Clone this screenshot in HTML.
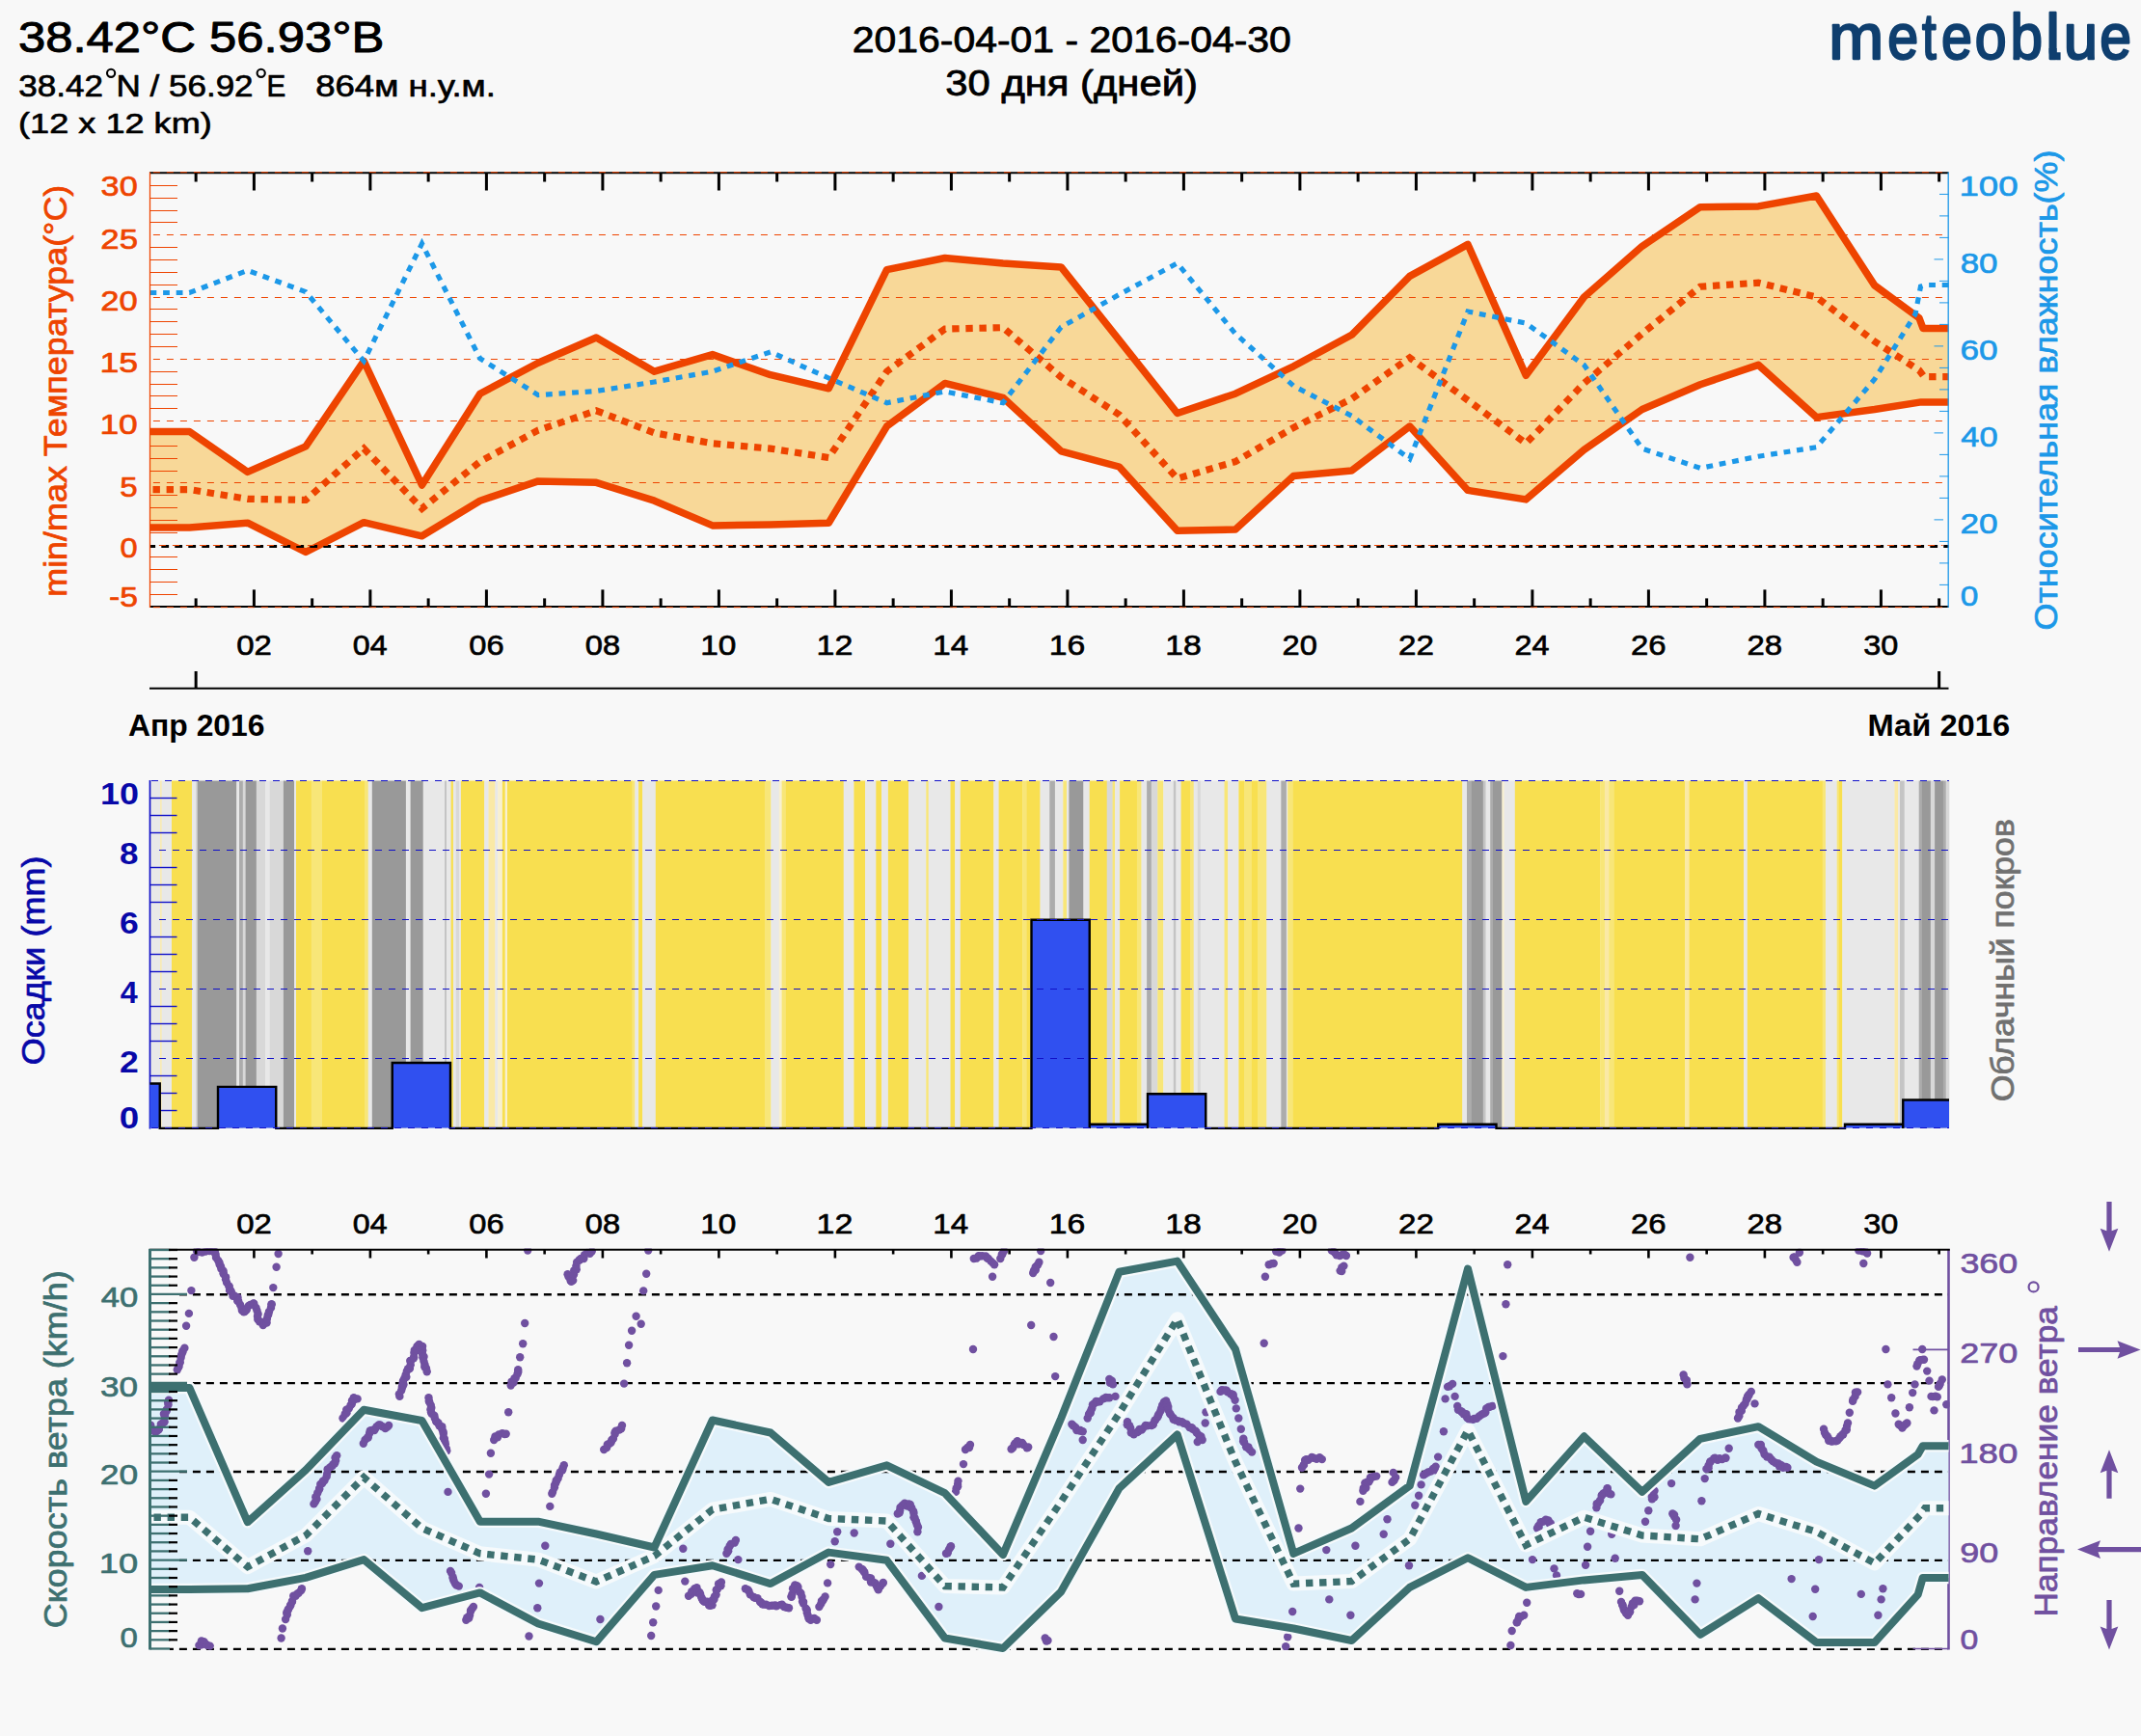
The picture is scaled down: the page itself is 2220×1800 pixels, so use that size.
<!DOCTYPE html>
<html><head><meta charset="utf-8"><title>meteoblue</title>
<style>html,body{margin:0;padding:0;background:#F8F8F8;overflow:hidden}svg{display:block}text{font-family:"Liberation Sans",sans-serif;white-space:pre}</style></head><body>
<svg width="2220" height="1800" viewBox="0 0 2220 1800">
<rect width="2220" height="1800" fill="#F8F8F8"/>
<text transform="translate(18.9 54.41) scale(1.1382 1)" font-size="44.62" fill="#000" stroke="#000" stroke-width="0.98" stroke-linejoin="round">38.42°С 56.93°В</text>
<text transform="translate(19.35 99.55) scale(1.1159 1)" font-size="31.43" fill="#000" stroke="#000" stroke-width="0.69" stroke-linejoin="round">38.42</text>
<text transform="translate(120.46 99.55) scale(1.1152 1)" font-size="31.43" fill="#000" stroke="#000" stroke-width="0.69" stroke-linejoin="round">N / 56.92</text>
<text transform="translate(276.58 99.55) scale(0.9454 1)" font-size="31.43" fill="#000" stroke="#000" stroke-width="0.69" stroke-linejoin="round">E</text>
<circle cx="115.1" cy="75.8" r="4.1" fill="none" stroke="#000" stroke-width="2.1"/>
<circle cx="270.7" cy="75.8" r="4.1" fill="none" stroke="#000" stroke-width="2.1"/>
<text transform="translate(327.19 99.55) scale(1.1637 1)" font-size="31.43" fill="#000" stroke="#000" stroke-width="0.69" stroke-linejoin="round">864м н.у.м.</text>
<text transform="translate(19.1 138.27) scale(1.2170 1)" font-size="29.68" fill="#000" stroke="#000" stroke-width="0.65" stroke-linejoin="round">(12 x 12 km)</text>
<text transform="translate(883.76 54.49) scale(1.1107 1)" font-size="36.86" fill="#000" stroke="#000" stroke-width="0.81" stroke-linejoin="round">2016-04-01 - 2016-04-30</text>
<text transform="translate(980.3 99.49) scale(1.1337 1)" font-size="36.86" fill="#000" stroke="#000" stroke-width="0.81" stroke-linejoin="round">30 дня (дней)</text>
<text stroke="#0F3F6F" stroke-width="2.3" stroke-linejoin="round" transform="translate(1896.35 61.2) scale(1.0324 1)" font-size="66.2" fill="#0F3F6F">m</text>
<text stroke="#0F3F6F" stroke-width="2.3" stroke-linejoin="round" transform="translate(1957.37 61.2) scale(0.8672 1)" font-size="66.2" fill="#0F3F6F">e</text>
<text stroke="#0F3F6F" stroke-width="2.3" stroke-linejoin="round" transform="translate(1993.1 61.2) scale(0.7971 1)" font-size="66.2" fill="#0F3F6F">t</text>
<text stroke="#0F3F6F" stroke-width="2.3" stroke-linejoin="round" transform="translate(2012.97 61.2) scale(0.8672 1)" font-size="66.2" fill="#0F3F6F">e</text>
<text stroke="#0F3F6F" stroke-width="2.3" stroke-linejoin="round" transform="translate(2047.79 61.2) scale(0.8928 1)" font-size="66.2" fill="#0F3F6F">o</text>
<text stroke="#0F3F6F" stroke-width="2.3" stroke-linejoin="round" transform="translate(2084.48 61.2) scale(0.9109 1)" font-size="66.2" fill="#0F3F6F">b</text>
<text stroke="#0F3F6F" stroke-width="2.3" stroke-linejoin="round" transform="translate(2121.29 61.2) scale(0.9913 1)" font-size="66.2" fill="#0F3F6F">l</text>
<text stroke="#0F3F6F" stroke-width="2.3" stroke-linejoin="round" transform="translate(2139.87 61.2) scale(0.9593 1)" font-size="66.2" fill="#0F3F6F">u</text>
<text stroke="#0F3F6F" stroke-width="2.3" stroke-linejoin="round" transform="translate(2177.3 61.2) scale(0.8896 1)" font-size="66.2" fill="#0F3F6F">e</text>
<path d="M2128.6 50 V54 Q2128.6 58.3 2133 58.3 H2136.6" fill="none" stroke="#0F3F6F" stroke-width="8"/>
<polygon points="155.5,447.5 196.5,447.5 256.75,489.4 317,462.9 377.25,374.4 437.5,503 497.75,408.2 558,376.3 618.25,350 678.5,385.2 738.75,367.6 799,388.7 859.25,402.8 919.5,279.6 979.75,267.5 1040,272.9 1100.25,276.9 1160.5,352.7 1220.75,428.5 1281,408.2 1341.25,379.8 1401.5,347.3 1461.75,286.4 1522,253.4 1582.25,389.3 1642.5,308 1702.75,255.3 1763,214.7 1823.25,213.9 1883.5,203 1943.75,295.9 1990,329.7 1994,340.5 2020.5,340.5 2020.5,416.9 1992,416.9 1943.75,424.5 1883.5,432.6 1823.25,378.4 1763,398.7 1702.75,424.5 1642.5,466.4 1582.25,517.9 1522,508.4 1461.75,442.1 1401.5,488.1 1341.25,493.5 1281,549 1220.75,550.3 1160.5,484 1100.25,467.8 1040,412.3 979.75,397.4 919.5,442.1 859.25,542.2 799,544.1 738.75,544.9 678.5,519.2 618.25,500.3 558,498.9 497.75,519.2 437.5,555.8 377.25,541.7 317,572.5 256.75,542.2 196.5,547.1 155.5,547.1" fill="#F8D898"/>
<line x1="155.5" y1="616.5" x2="184" y2="616.5" stroke="#EE4400" stroke-width="1"/>
<line x1="155.5" y1="603.5" x2="184" y2="603.5" stroke="#EE4400" stroke-width="1"/>
<line x1="155.5" y1="590.5" x2="184" y2="590.5" stroke="#EE4400" stroke-width="1"/>
<line x1="155.5" y1="577.5" x2="184" y2="577.5" stroke="#EE4400" stroke-width="1"/>
<line x1="155.5" y1="552.5" x2="184" y2="552.5" stroke="#EE4400" stroke-width="1"/>
<line x1="155.5" y1="539.5" x2="184" y2="539.5" stroke="#EE4400" stroke-width="1"/>
<line x1="155.5" y1="526.5" x2="184" y2="526.5" stroke="#EE4400" stroke-width="1"/>
<line x1="155.5" y1="513.5" x2="184" y2="513.5" stroke="#EE4400" stroke-width="1"/>
<line x1="155.5" y1="488.5" x2="184" y2="488.5" stroke="#EE4400" stroke-width="1"/>
<line x1="155.5" y1="475.5" x2="184" y2="475.5" stroke="#EE4400" stroke-width="1"/>
<line x1="155.5" y1="462.5" x2="184" y2="462.5" stroke="#EE4400" stroke-width="1"/>
<line x1="155.5" y1="449.5" x2="184" y2="449.5" stroke="#EE4400" stroke-width="1"/>
<line x1="155.5" y1="423.5" x2="184" y2="423.5" stroke="#EE4400" stroke-width="1"/>
<line x1="155.5" y1="410.5" x2="184" y2="410.5" stroke="#EE4400" stroke-width="1"/>
<line x1="155.5" y1="398.5" x2="184" y2="398.5" stroke="#EE4400" stroke-width="1"/>
<line x1="155.5" y1="385.5" x2="184" y2="385.5" stroke="#EE4400" stroke-width="1"/>
<line x1="155.5" y1="359.5" x2="184" y2="359.5" stroke="#EE4400" stroke-width="1"/>
<line x1="155.5" y1="346.5" x2="184" y2="346.5" stroke="#EE4400" stroke-width="1"/>
<line x1="155.5" y1="333.5" x2="184" y2="333.5" stroke="#EE4400" stroke-width="1"/>
<line x1="155.5" y1="320.5" x2="184" y2="320.5" stroke="#EE4400" stroke-width="1"/>
<line x1="155.5" y1="295.5" x2="184" y2="295.5" stroke="#EE4400" stroke-width="1"/>
<line x1="155.5" y1="282.5" x2="184" y2="282.5" stroke="#EE4400" stroke-width="1"/>
<line x1="155.5" y1="269.5" x2="184" y2="269.5" stroke="#EE4400" stroke-width="1"/>
<line x1="155.5" y1="256.5" x2="184" y2="256.5" stroke="#EE4400" stroke-width="1"/>
<line x1="155.5" y1="230.5" x2="184" y2="230.5" stroke="#EE4400" stroke-width="1"/>
<line x1="155.5" y1="218.5" x2="184" y2="218.5" stroke="#EE4400" stroke-width="1"/>
<line x1="155.5" y1="205.5" x2="184" y2="205.5" stroke="#EE4400" stroke-width="1"/>
<line x1="155.5" y1="192.5" x2="184" y2="192.5" stroke="#EE4400" stroke-width="1"/>
<line x1="158.5" y1="629.5" x2="2014.5" y2="629.5" stroke="#EE4400" stroke-width="1.1" stroke-dasharray="7 7" stroke-dashoffset="13.6"/>
<line x1="158.5" y1="500.5" x2="2014.5" y2="500.5" stroke="#EE4400" stroke-width="1.1" stroke-dasharray="7 7" stroke-dashoffset="13.6"/>
<line x1="158.5" y1="436.5" x2="2014.5" y2="436.5" stroke="#EE4400" stroke-width="1.1" stroke-dasharray="7 7" stroke-dashoffset="13.6"/>
<line x1="158.5" y1="372.5" x2="2014.5" y2="372.5" stroke="#EE4400" stroke-width="1.1" stroke-dasharray="7 7" stroke-dashoffset="13.6"/>
<line x1="158.5" y1="308.5" x2="2014.5" y2="308.5" stroke="#EE4400" stroke-width="1.1" stroke-dasharray="7 7" stroke-dashoffset="13.6"/>
<line x1="158.5" y1="243.5" x2="2014.5" y2="243.5" stroke="#EE4400" stroke-width="1.1" stroke-dasharray="7 7" stroke-dashoffset="13.6"/>
<line x1="158.5" y1="179.5" x2="2014.5" y2="179.5" stroke="#EE4400" stroke-width="1.1" stroke-dasharray="7 7" stroke-dashoffset="13.6"/>
<line x1="155" y1="179.2" x2="2020.5" y2="179.2" stroke="#000" stroke-width="2"/>
<line x1="155" y1="629.1" x2="2020.5" y2="629.1" stroke="#000" stroke-width="2"/>
<line x1="158.5" y1="178.7" x2="2020.5" y2="178.7" stroke="#EE4400" stroke-width="1" stroke-dasharray="7 7" stroke-dashoffset="13.6"/>
<line x1="158.5" y1="629.7" x2="2020.5" y2="629.7" stroke="#EE4400" stroke-width="1" stroke-dasharray="7 7" stroke-dashoffset="13.6"/>
<line x1="203.15" y1="179.5" x2="203.15" y2="188.5" stroke="#000" stroke-width="3"/>
<line x1="203.15" y1="629.4" x2="203.15" y2="620.4" stroke="#000" stroke-width="3"/>
<line x1="263.4" y1="179.5" x2="263.4" y2="197.5" stroke="#000" stroke-width="3"/>
<line x1="263.4" y1="629.4" x2="263.4" y2="611.4" stroke="#000" stroke-width="3"/>
<line x1="323.65" y1="179.5" x2="323.65" y2="188.5" stroke="#000" stroke-width="3"/>
<line x1="323.65" y1="629.4" x2="323.65" y2="620.4" stroke="#000" stroke-width="3"/>
<line x1="383.9" y1="179.5" x2="383.9" y2="197.5" stroke="#000" stroke-width="3"/>
<line x1="383.9" y1="629.4" x2="383.9" y2="611.4" stroke="#000" stroke-width="3"/>
<line x1="444.15" y1="179.5" x2="444.15" y2="188.5" stroke="#000" stroke-width="3"/>
<line x1="444.15" y1="629.4" x2="444.15" y2="620.4" stroke="#000" stroke-width="3"/>
<line x1="504.4" y1="179.5" x2="504.4" y2="197.5" stroke="#000" stroke-width="3"/>
<line x1="504.4" y1="629.4" x2="504.4" y2="611.4" stroke="#000" stroke-width="3"/>
<line x1="564.65" y1="179.5" x2="564.65" y2="188.5" stroke="#000" stroke-width="3"/>
<line x1="564.65" y1="629.4" x2="564.65" y2="620.4" stroke="#000" stroke-width="3"/>
<line x1="624.9" y1="179.5" x2="624.9" y2="197.5" stroke="#000" stroke-width="3"/>
<line x1="624.9" y1="629.4" x2="624.9" y2="611.4" stroke="#000" stroke-width="3"/>
<line x1="685.15" y1="179.5" x2="685.15" y2="188.5" stroke="#000" stroke-width="3"/>
<line x1="685.15" y1="629.4" x2="685.15" y2="620.4" stroke="#000" stroke-width="3"/>
<line x1="745.4" y1="179.5" x2="745.4" y2="197.5" stroke="#000" stroke-width="3"/>
<line x1="745.4" y1="629.4" x2="745.4" y2="611.4" stroke="#000" stroke-width="3"/>
<line x1="805.65" y1="179.5" x2="805.65" y2="188.5" stroke="#000" stroke-width="3"/>
<line x1="805.65" y1="629.4" x2="805.65" y2="620.4" stroke="#000" stroke-width="3"/>
<line x1="865.9" y1="179.5" x2="865.9" y2="197.5" stroke="#000" stroke-width="3"/>
<line x1="865.9" y1="629.4" x2="865.9" y2="611.4" stroke="#000" stroke-width="3"/>
<line x1="926.15" y1="179.5" x2="926.15" y2="188.5" stroke="#000" stroke-width="3"/>
<line x1="926.15" y1="629.4" x2="926.15" y2="620.4" stroke="#000" stroke-width="3"/>
<line x1="986.4" y1="179.5" x2="986.4" y2="197.5" stroke="#000" stroke-width="3"/>
<line x1="986.4" y1="629.4" x2="986.4" y2="611.4" stroke="#000" stroke-width="3"/>
<line x1="1046.65" y1="179.5" x2="1046.65" y2="188.5" stroke="#000" stroke-width="3"/>
<line x1="1046.65" y1="629.4" x2="1046.65" y2="620.4" stroke="#000" stroke-width="3"/>
<line x1="1106.9" y1="179.5" x2="1106.9" y2="197.5" stroke="#000" stroke-width="3"/>
<line x1="1106.9" y1="629.4" x2="1106.9" y2="611.4" stroke="#000" stroke-width="3"/>
<line x1="1167.15" y1="179.5" x2="1167.15" y2="188.5" stroke="#000" stroke-width="3"/>
<line x1="1167.15" y1="629.4" x2="1167.15" y2="620.4" stroke="#000" stroke-width="3"/>
<line x1="1227.4" y1="179.5" x2="1227.4" y2="197.5" stroke="#000" stroke-width="3"/>
<line x1="1227.4" y1="629.4" x2="1227.4" y2="611.4" stroke="#000" stroke-width="3"/>
<line x1="1287.65" y1="179.5" x2="1287.65" y2="188.5" stroke="#000" stroke-width="3"/>
<line x1="1287.65" y1="629.4" x2="1287.65" y2="620.4" stroke="#000" stroke-width="3"/>
<line x1="1347.9" y1="179.5" x2="1347.9" y2="197.5" stroke="#000" stroke-width="3"/>
<line x1="1347.9" y1="629.4" x2="1347.9" y2="611.4" stroke="#000" stroke-width="3"/>
<line x1="1408.15" y1="179.5" x2="1408.15" y2="188.5" stroke="#000" stroke-width="3"/>
<line x1="1408.15" y1="629.4" x2="1408.15" y2="620.4" stroke="#000" stroke-width="3"/>
<line x1="1468.4" y1="179.5" x2="1468.4" y2="197.5" stroke="#000" stroke-width="3"/>
<line x1="1468.4" y1="629.4" x2="1468.4" y2="611.4" stroke="#000" stroke-width="3"/>
<line x1="1528.65" y1="179.5" x2="1528.65" y2="188.5" stroke="#000" stroke-width="3"/>
<line x1="1528.65" y1="629.4" x2="1528.65" y2="620.4" stroke="#000" stroke-width="3"/>
<line x1="1588.9" y1="179.5" x2="1588.9" y2="197.5" stroke="#000" stroke-width="3"/>
<line x1="1588.9" y1="629.4" x2="1588.9" y2="611.4" stroke="#000" stroke-width="3"/>
<line x1="1649.15" y1="179.5" x2="1649.15" y2="188.5" stroke="#000" stroke-width="3"/>
<line x1="1649.15" y1="629.4" x2="1649.15" y2="620.4" stroke="#000" stroke-width="3"/>
<line x1="1709.4" y1="179.5" x2="1709.4" y2="197.5" stroke="#000" stroke-width="3"/>
<line x1="1709.4" y1="629.4" x2="1709.4" y2="611.4" stroke="#000" stroke-width="3"/>
<line x1="1769.65" y1="179.5" x2="1769.65" y2="188.5" stroke="#000" stroke-width="3"/>
<line x1="1769.65" y1="629.4" x2="1769.65" y2="620.4" stroke="#000" stroke-width="3"/>
<line x1="1829.9" y1="179.5" x2="1829.9" y2="197.5" stroke="#000" stroke-width="3"/>
<line x1="1829.9" y1="629.4" x2="1829.9" y2="611.4" stroke="#000" stroke-width="3"/>
<line x1="1890.15" y1="179.5" x2="1890.15" y2="188.5" stroke="#000" stroke-width="3"/>
<line x1="1890.15" y1="629.4" x2="1890.15" y2="620.4" stroke="#000" stroke-width="3"/>
<line x1="1950.4" y1="179.5" x2="1950.4" y2="197.5" stroke="#000" stroke-width="3"/>
<line x1="1950.4" y1="629.4" x2="1950.4" y2="611.4" stroke="#000" stroke-width="3"/>
<line x1="2010.65" y1="179.5" x2="2010.65" y2="188.5" stroke="#000" stroke-width="3"/>
<line x1="2010.65" y1="629.4" x2="2010.65" y2="620.4" stroke="#000" stroke-width="3"/>
<polyline points="155.5,447.5 196.5,447.5 256.75,489.4 317,462.9 377.25,374.4 437.5,503 497.75,408.2 558,376.3 618.25,350 678.5,385.2 738.75,367.6 799,388.7 859.25,402.8 919.5,279.6 979.75,267.5 1040,272.9 1100.25,276.9 1160.5,352.7 1220.75,428.5 1281,408.2 1341.25,379.8 1401.5,347.3 1461.75,286.4 1522,253.4 1582.25,389.3 1642.5,308 1702.75,255.3 1763,214.7 1823.25,213.9 1883.5,203 1943.75,295.9 1990,329.7 1994,340.5 2020.5,340.5" fill="none" stroke="#EE4400" stroke-width="7.5" stroke-linejoin="round"/>
<polyline points="155.5,547.1 196.5,547.1 256.75,542.2 317,572.5 377.25,541.7 437.5,555.8 497.75,519.2 558,498.9 618.25,500.3 678.5,519.2 738.75,544.9 799,544.1 859.25,542.2 919.5,442.1 979.75,397.4 1040,412.3 1100.25,467.8 1160.5,484 1220.75,550.3 1281,549 1341.25,493.5 1401.5,488.1 1461.75,442.1 1522,508.4 1582.25,517.9 1642.5,466.4 1702.75,424.5 1763,398.7 1823.25,378.4 1883.5,432.6 1943.75,424.5 1992,416.9 2020.5,416.9" fill="none" stroke="#EE4400" stroke-width="7.5" stroke-linejoin="round"/>
<polyline points="155.5,507.6 196.5,507.6 256.75,517.3 317,518.4 377.25,465.1 437.5,527.3 497.75,478.6 558,446.1 618.25,425.8 678.5,448.8 738.75,459.7 799,465.1 859.25,474.5 919.5,385.2 979.75,341.1 1040,339.7 1100.25,391 1160.5,429.9 1220.75,496.2 1281,478.6 1341.25,443.4 1401.5,413.6 1461.75,370.9 1522,415 1582.25,459.7 1642.5,397.4 1702.75,346 1763,297.2 1823.25,293.2 1883.5,308 1943.75,354 1990,383.9 1995,390.6 2020.5,390.6" fill="none" stroke="#EE4400" stroke-width="7.2" stroke-dasharray="7.4 6.7" stroke-dashoffset="-3"/>
<polyline points="155.5,303.5 196.5,303.5 256.75,280.4 317,302.6 377.25,374.4 437.5,252.6 497.75,371.7 558,409.6 618.25,405.5 678.5,396 738.75,385.2 799,364.9 859.25,392 919.5,417.7 979.75,406 1040,417.7 1100.25,339.2 1160.5,305.4 1220.75,272.9 1281,346 1341.25,400.1 1401.5,431.2 1461.75,475.9 1522,323 1582.25,335.1 1642.5,378.4 1702.75,465.1 1763,485.4 1823.25,473.2 1883.5,463.7 1943.75,393.3 1986,325.7 1991.5,297 1996,295.5 2020.5,295.5" fill="none" stroke="#1C98E8" stroke-width="5.2" stroke-dasharray="6.8 6.8" />
<line x1="155.5" y1="566.5" x2="2020.5" y2="566.5" stroke="#000" stroke-width="2.8" stroke-dasharray="7.8 6.2" stroke-dashoffset="2.2"/>
<line x1="158.5" y1="565.5" x2="2014.5" y2="565.5" stroke="#EE4400" stroke-width="1.1" stroke-dasharray="7 7" stroke-dashoffset="7.6"/>
<line x1="155.5" y1="178.5" x2="155.5" y2="630.1" stroke="#EE4400" stroke-width="1.3"/>
<line x1="2020.2" y1="178.5" x2="2020.2" y2="630.1" stroke="#1C98E8" stroke-width="1.3"/>
<line x1="2011" y1="606.4" x2="2020.5" y2="606.4" stroke="#1C98E8" stroke-width="1"/>
<line x1="2011" y1="583.9" x2="2020.5" y2="583.9" stroke="#1C98E8" stroke-width="1"/>
<line x1="2011" y1="561.4" x2="2020.5" y2="561.4" stroke="#1C98E8" stroke-width="1"/>
<line x1="2005.5" y1="538.9" x2="2015" y2="538.9" stroke="#1C98E8" stroke-width="1"/>
<line x1="2011" y1="516.4" x2="2020.5" y2="516.4" stroke="#1C98E8" stroke-width="1"/>
<line x1="2011" y1="493.9" x2="2020.5" y2="493.9" stroke="#1C98E8" stroke-width="1"/>
<line x1="2011" y1="471.4" x2="2020.5" y2="471.4" stroke="#1C98E8" stroke-width="1"/>
<line x1="2005.5" y1="448.9" x2="2015" y2="448.9" stroke="#1C98E8" stroke-width="1"/>
<line x1="2011" y1="426.4" x2="2020.5" y2="426.4" stroke="#1C98E8" stroke-width="1"/>
<line x1="2011" y1="403.9" x2="2020.5" y2="403.9" stroke="#1C98E8" stroke-width="1"/>
<line x1="2011" y1="381.4" x2="2020.5" y2="381.4" stroke="#1C98E8" stroke-width="1"/>
<line x1="2005.5" y1="358.9" x2="2015" y2="358.9" stroke="#1C98E8" stroke-width="1"/>
<line x1="2011" y1="336.4" x2="2020.5" y2="336.4" stroke="#1C98E8" stroke-width="1"/>
<line x1="2011" y1="313.9" x2="2020.5" y2="313.9" stroke="#1C98E8" stroke-width="1"/>
<line x1="2011" y1="291.4" x2="2020.5" y2="291.4" stroke="#1C98E8" stroke-width="1"/>
<line x1="2005.5" y1="268.9" x2="2015" y2="268.9" stroke="#1C98E8" stroke-width="1"/>
<line x1="2011" y1="246.4" x2="2020.5" y2="246.4" stroke="#1C98E8" stroke-width="1"/>
<line x1="2011" y1="223.9" x2="2020.5" y2="223.9" stroke="#1C98E8" stroke-width="1"/>
<line x1="2011" y1="201.4" x2="2020.5" y2="201.4" stroke="#1C98E8" stroke-width="1"/>
<text transform="translate(104.62 203.47) scale(1.1274 1)" font-size="30.36" fill="#EE4400" stroke="#EE4400" stroke-width="0.67" stroke-linejoin="round">30</text>
<text transform="translate(104.32 257.67) scale(1.1458 1)" font-size="30.36" fill="#EE4400" stroke="#EE4400" stroke-width="0.67" stroke-linejoin="round">25</text>
<text transform="translate(104.33 321.77) scale(1.1365 1)" font-size="30.36" fill="#EE4400" stroke="#EE4400" stroke-width="0.67" stroke-linejoin="round">20</text>
<text transform="translate(103.39 386.27) scale(1.1744 1)" font-size="30.36" fill="#EE4400" stroke="#EE4400" stroke-width="0.67" stroke-linejoin="round">15</text>
<text transform="translate(103.41 449.87) scale(1.1647 1)" font-size="30.36" fill="#EE4400" stroke="#EE4400" stroke-width="0.67" stroke-linejoin="round">10</text>
<text transform="translate(124.37 514.87) scale(1.0900 1)" font-size="30.36" fill="#EE4400" stroke="#EE4400" stroke-width="0.67" stroke-linejoin="round">5</text>
<text transform="translate(124.4 578.47) scale(1.0712 1)" font-size="30.36" fill="#EE4400" stroke="#EE4400" stroke-width="0.67" stroke-linejoin="round">0</text>
<text transform="translate(112.95 628.57) scale(1.1106 1)" font-size="30.36" fill="#EE4400" stroke="#EE4400" stroke-width="0.67" stroke-linejoin="round">-5</text>
<text transform="translate(2031.42 203.17) scale(1.2070 1)" font-size="30.36" fill="#1C98E8" stroke="#1C98E8" stroke-width="0.67" stroke-linejoin="round">100</text>
<text transform="translate(2032.7 283.17) scale(1.1498 1)" font-size="30.36" fill="#1C98E8" stroke="#1C98E8" stroke-width="0.67" stroke-linejoin="round">80</text>
<text transform="translate(2032.4 373.17) scale(1.1591 1)" font-size="30.36" fill="#1C98E8" stroke="#1C98E8" stroke-width="0.67" stroke-linejoin="round">60</text>
<text transform="translate(2033.29 462.67) scale(1.1317 1)" font-size="30.36" fill="#1C98E8" stroke="#1C98E8" stroke-width="0.67" stroke-linejoin="round">40</text>
<text transform="translate(2032.4 553.27) scale(1.1591 1)" font-size="30.36" fill="#1C98E8" stroke="#1C98E8" stroke-width="0.67" stroke-linejoin="round">20</text>
<text transform="translate(2032.76 628.07) scale(1.0988 1)" font-size="30.36" fill="#1C98E8" stroke="#1C98E8" stroke-width="0.67" stroke-linejoin="round">0</text>
<text transform="translate(245.28 679.07) scale(1.0840 1)" font-size="30.36" fill="#000" stroke="#000" stroke-width="0.67" stroke-linejoin="round">02</text>
<text transform="translate(365.81 679.07) scale(1.0582 1)" font-size="30.36" fill="#000" stroke="#000" stroke-width="0.67" stroke-linejoin="round">04</text>
<text transform="translate(486.29 679.07) scale(1.0752 1)" font-size="30.36" fill="#000" stroke="#000" stroke-width="0.67" stroke-linejoin="round">06</text>
<text transform="translate(606.79 679.07) scale(1.0752 1)" font-size="30.36" fill="#000" stroke="#000" stroke-width="0.67" stroke-linejoin="round">08</text>
<text transform="translate(726.15 679.07) scale(1.1019 1)" font-size="30.36" fill="#000" stroke="#000" stroke-width="0.67" stroke-linejoin="round">10</text>
<text transform="translate(846.61 679.07) scale(1.1204 1)" font-size="30.36" fill="#000" stroke="#000" stroke-width="0.67" stroke-linejoin="round">12</text>
<text transform="translate(967.18 679.07) scale(1.0929 1)" font-size="30.36" fill="#000" stroke="#000" stroke-width="0.67" stroke-linejoin="round">14</text>
<text transform="translate(1087.63 679.07) scale(1.1111 1)" font-size="30.36" fill="#000" stroke="#000" stroke-width="0.67" stroke-linejoin="round">16</text>
<text transform="translate(1208.13 679.07) scale(1.1111 1)" font-size="30.36" fill="#000" stroke="#000" stroke-width="0.67" stroke-linejoin="round">18</text>
<text transform="translate(1329.52 679.07) scale(1.0752 1)" font-size="30.36" fill="#000" stroke="#000" stroke-width="0.67" stroke-linejoin="round">20</text>
<text transform="translate(1449.99 679.07) scale(1.0929 1)" font-size="30.36" fill="#000" stroke="#000" stroke-width="0.67" stroke-linejoin="round">22</text>
<text transform="translate(1570.53 679.07) scale(1.0666 1)" font-size="30.36" fill="#000" stroke="#000" stroke-width="0.67" stroke-linejoin="round">24</text>
<text transform="translate(1691.01 679.07) scale(1.0840 1)" font-size="30.36" fill="#000" stroke="#000" stroke-width="0.67" stroke-linejoin="round">26</text>
<text transform="translate(1811.51 679.07) scale(1.0840 1)" font-size="30.36" fill="#000" stroke="#000" stroke-width="0.67" stroke-linejoin="round">28</text>
<text transform="translate(1932.3 679.07) scale(1.0666 1)" font-size="30.36" fill="#000" stroke="#000" stroke-width="0.67" stroke-linejoin="round">30</text>
<text transform="translate(69.43 618.75) rotate(-90) scale(1.0728 1)" font-size="33.46" fill="#EE4400" stroke="#EE4400" stroke-width="0.74" stroke-linejoin="round">min/max Температура(°C)</text>
<text transform="translate(2132.63 653.44) rotate(-90) scale(1.0736 1)" font-size="33.46" fill="#1C98E8" stroke="#1C98E8" stroke-width="0.74" stroke-linejoin="round">Относительная влажность(%)</text>
<line x1="155" y1="713.7" x2="2020.5" y2="713.7" stroke="#000" stroke-width="2"/>
<line x1="203.15" y1="696" x2="203.15" y2="714" stroke="#000" stroke-width="3"/>
<line x1="2010.65" y1="696" x2="2010.65" y2="714" stroke="#000" stroke-width="3"/>
<text transform="translate(133.05 763) scale(1.0029 1)" font-size="31.8" fill="#000" font-weight="bold">Апр 2016</text>
<text transform="translate(1936.45 763) scale(1.0275 1)" font-size="31.8" fill="#000" font-weight="bold">Май 2016</text>
<rect x="155.5" y="809.5" width="11" height="360" fill="#E8E8E8"/>
<rect x="166.2" y="809.5" width="1.7" height="360" fill="#FAE9A6"/>
<rect x="167.6" y="809.5" width="10.7" height="360" fill="#E8E8E8"/>
<rect x="178" y="809.5" width="21.3" height="360" fill="#F8DF50"/>
<rect x="199" y="809.5" width="4.8" height="360" fill="#E8E8E8"/>
<rect x="203.5" y="809.5" width="1.8" height="360" fill="#C4C4C4"/>
<rect x="205" y="809.5" width="40.6" height="360" fill="#999999"/>
<rect x="245.3" y="809.5" width="3" height="360" fill="#E8E8E8"/>
<rect x="248" y="809.5" width="4.1" height="360" fill="#ACACAC"/>
<rect x="251.8" y="809.5" width="3.1" height="360" fill="#D8D8D8"/>
<rect x="254.6" y="809.5" width="11.5" height="360" fill="#999999"/>
<rect x="265.8" y="809.5" width="9.7" height="360" fill="#D8D8D8"/>
<rect x="275.2" y="809.5" width="4.9" height="360" fill="#E8E8E8"/>
<rect x="279.8" y="809.5" width="14.4" height="360" fill="#D8D8D8"/>
<rect x="293.9" y="809.5" width="11.4" height="360" fill="#999999"/>
<rect x="305" y="809.5" width="2.3" height="360" fill="#E8E8E8"/>
<rect x="307" y="809.5" width="16.1" height="360" fill="#F8DF50"/>
<rect x="322.8" y="809.5" width="11.5" height="360" fill="#F8E678"/>
<rect x="334" y="809.5" width="44.3" height="360" fill="#F8DF50"/>
<rect x="378" y="809.5" width="4" height="360" fill="#F8E678"/>
<rect x="381.7" y="809.5" width="4.4" height="360" fill="#E8E8E8"/>
<rect x="385.8" y="809.5" width="35.4" height="360" fill="#999999"/>
<rect x="420.9" y="809.5" width="5" height="360" fill="#E8E8E8"/>
<rect x="425.6" y="809.5" width="13.4" height="360" fill="#999999"/>
<rect x="438.7" y="809.5" width="22.6" height="360" fill="#E8E8E8"/>
<rect x="461" y="809.5" width="2.3" height="360" fill="#C4C4C4"/>
<rect x="463" y="809.5" width="4.9" height="360" fill="#E8E8E8"/>
<rect x="467.6" y="809.5" width="2.6" height="360" fill="#F8DF50"/>
<rect x="469.9" y="809.5" width="3.2" height="360" fill="#E8E8E8"/>
<rect x="472.8" y="809.5" width="3.5" height="360" fill="#D8D8D8"/>
<rect x="476" y="809.5" width="2.2" height="360" fill="#E8E8E8"/>
<rect x="477.9" y="809.5" width="24.6" height="360" fill="#F8DF50"/>
<rect x="502.2" y="809.5" width="4.6" height="360" fill="#E8E8E8"/>
<rect x="506.5" y="809.5" width="7.2" height="360" fill="#FAE9A6"/>
<rect x="513.4" y="809.5" width="3.1" height="360" fill="#E8E8E8"/>
<rect x="516.2" y="809.5" width="5" height="360" fill="#F8F0D0"/>
<rect x="520.9" y="809.5" width="3.1" height="360" fill="#F8DF50"/>
<rect x="523.7" y="809.5" width="2.6" height="360" fill="#F8F0D0"/>
<rect x="526" y="809.5" width="129.9" height="360" fill="#F8DF50"/>
<rect x="655.6" y="809.5" width="3.1" height="360" fill="#F8E678"/>
<rect x="658.4" y="809.5" width="4" height="360" fill="#E8E8E8"/>
<rect x="662.1" y="809.5" width="4.4" height="360" fill="#F8DF50"/>
<rect x="666.2" y="809.5" width="13.9" height="360" fill="#E8E8E8"/>
<rect x="679.8" y="809.5" width="113.4" height="360" fill="#F8DF50"/>
<rect x="792.9" y="809.5" width="6.8" height="360" fill="#F8E678"/>
<rect x="799.4" y="809.5" width="8.7" height="360" fill="#E8E8E8"/>
<rect x="807.8" y="809.5" width="3.1" height="360" fill="#F8F0D0"/>
<rect x="810.6" y="809.5" width="4.6" height="360" fill="#F8E678"/>
<rect x="814.9" y="809.5" width="60.1" height="360" fill="#F8DF50"/>
<rect x="874.7" y="809.5" width="11" height="360" fill="#E8E8E8"/>
<rect x="885.4" y="809.5" width="12" height="360" fill="#F8DF50"/>
<rect x="897.1" y="809.5" width="11.5" height="360" fill="#E8E8E8"/>
<rect x="908.3" y="809.5" width="6" height="360" fill="#F8DF50"/>
<rect x="914" y="809.5" width="7.2" height="360" fill="#E8E8E8"/>
<rect x="920.9" y="809.5" width="21.4" height="360" fill="#F8DF50"/>
<rect x="942" y="809.5" width="18.6" height="360" fill="#E8E8E8"/>
<rect x="960.3" y="809.5" width="2.7" height="360" fill="#F8E678"/>
<rect x="962.7" y="809.5" width="23.1" height="360" fill="#E8E8E8"/>
<rect x="985.5" y="809.5" width="5" height="360" fill="#F8DF50"/>
<rect x="990.2" y="809.5" width="5.9" height="360" fill="#E8E8E8"/>
<rect x="995.8" y="809.5" width="34.8" height="360" fill="#F8DF50"/>
<rect x="1030.3" y="809.5" width="5.6" height="360" fill="#E8E8E8"/>
<rect x="1035.6" y="809.5" width="24.9" height="360" fill="#F8DF50"/>
<rect x="1060.2" y="809.5" width="4.4" height="360" fill="#F8E678"/>
<rect x="1064.3" y="809.5" width="14.5" height="360" fill="#F8DF50"/>
<rect x="1078.5" y="809.5" width="10.1" height="360" fill="#E8E8E8"/>
<rect x="1088.3" y="809.5" width="5.9" height="360" fill="#ACACAC"/>
<rect x="1093.9" y="809.5" width="8.7" height="360" fill="#E8E8E8"/>
<rect x="1102.3" y="809.5" width="4" height="360" fill="#F8E678"/>
<rect x="1106" y="809.5" width="2.7" height="360" fill="#E8E8E8"/>
<rect x="1108.4" y="809.5" width="15.3" height="360" fill="#999999"/>
<rect x="1123.4" y="809.5" width="6.6" height="360" fill="#E8E8E8"/>
<rect x="1129.7" y="809.5" width="18.3" height="360" fill="#F8DF50"/>
<rect x="1147.7" y="809.5" width="6.2" height="360" fill="#D8D8D8"/>
<rect x="1153.6" y="809.5" width="2.8" height="360" fill="#F8E678"/>
<rect x="1156.1" y="809.5" width="5.3" height="360" fill="#E8E8E8"/>
<rect x="1161.1" y="809.5" width="18.1" height="360" fill="#F8DF50"/>
<rect x="1178.9" y="809.5" width="4.9" height="360" fill="#F8E678"/>
<rect x="1183.5" y="809.5" width="5.9" height="360" fill="#E8E8E8"/>
<rect x="1189.1" y="809.5" width="5" height="360" fill="#ACACAC"/>
<rect x="1193.8" y="809.5" width="6.8" height="360" fill="#D8D8D8"/>
<rect x="1200.3" y="809.5" width="6.3" height="360" fill="#F8E678"/>
<rect x="1206.3" y="809.5" width="10.8" height="360" fill="#E8E8E8"/>
<rect x="1216.8" y="809.5" width="2.9" height="360" fill="#C4C4C4"/>
<rect x="1219.4" y="809.5" width="5.5" height="360" fill="#E8E8E8"/>
<rect x="1224.6" y="809.5" width="9.7" height="360" fill="#F8DF50"/>
<rect x="1234" y="809.5" width="4" height="360" fill="#F8E678"/>
<rect x="1237.7" y="809.5" width="4.4" height="360" fill="#E8E8E8"/>
<rect x="1241.8" y="809.5" width="3.3" height="360" fill="#D8D8D8"/>
<rect x="1244.8" y="809.5" width="25" height="360" fill="#E8E8E8"/>
<rect x="1269.5" y="809.5" width="4" height="360" fill="#F8E678"/>
<rect x="1273.2" y="809.5" width="11.5" height="360" fill="#E8E8E8"/>
<rect x="1284.4" y="809.5" width="5.9" height="360" fill="#F8DF50"/>
<rect x="1290" y="809.5" width="8.2" height="360" fill="#F8E678"/>
<rect x="1297.9" y="809.5" width="6.4" height="360" fill="#F8DF50"/>
<rect x="1304" y="809.5" width="9.7" height="360" fill="#F8E678"/>
<rect x="1313.4" y="809.5" width="15.2" height="360" fill="#E8E8E8"/>
<rect x="1328.3" y="809.5" width="5.9" height="360" fill="#ACACAC"/>
<rect x="1333.9" y="809.5" width="1.6" height="360" fill="#E8E8E8"/>
<rect x="1335.2" y="809.5" width="5.9" height="360" fill="#F8E678"/>
<rect x="1340.8" y="809.5" width="175.8" height="360" fill="#F8DF50"/>
<rect x="1516.3" y="809.5" width="5" height="360" fill="#E8E8E8"/>
<rect x="1521" y="809.5" width="4.9" height="360" fill="#ACACAC"/>
<rect x="1525.6" y="809.5" width="12.5" height="360" fill="#999999"/>
<rect x="1537.8" y="809.5" width="3.1" height="360" fill="#C4C4C4"/>
<rect x="1540.6" y="809.5" width="4.9" height="360" fill="#E8E8E8"/>
<rect x="1545.2" y="809.5" width="3.1" height="360" fill="#ACACAC"/>
<rect x="1548" y="809.5" width="9.7" height="360" fill="#999999"/>
<rect x="1557.4" y="809.5" width="2.5" height="360" fill="#F8F0D0"/>
<rect x="1559.6" y="809.5" width="11.5" height="360" fill="#E8E8E8"/>
<rect x="1570.8" y="809.5" width="88.7" height="360" fill="#F8DF50"/>
<rect x="1659.2" y="809.5" width="5" height="360" fill="#F8E678"/>
<rect x="1663.9" y="809.5" width="4.6" height="360" fill="#FAE9A6"/>
<rect x="1668.2" y="809.5" width="5.9" height="360" fill="#F8E678"/>
<rect x="1673.8" y="809.5" width="73.7" height="360" fill="#F8DF50"/>
<rect x="1747.2" y="809.5" width="4.6" height="360" fill="#FAE9A6"/>
<rect x="1751.5" y="809.5" width="56.9" height="360" fill="#F8DF50"/>
<rect x="1808.1" y="809.5" width="4" height="360" fill="#E8E8E8"/>
<rect x="1811.8" y="809.5" width="78.2" height="360" fill="#F8DF50"/>
<rect x="1889.7" y="809.5" width="3.5" height="360" fill="#F8E678"/>
<rect x="1892.9" y="809.5" width="12.1" height="360" fill="#E8E8E8"/>
<rect x="1904.7" y="809.5" width="2.1" height="360" fill="#F8E678"/>
<rect x="1906.5" y="809.5" width="4.1" height="360" fill="#F8DF50"/>
<rect x="1910.3" y="809.5" width="54.5" height="360" fill="#E8E8E8"/>
<rect x="1964.5" y="809.5" width="4" height="360" fill="#FAE9A6"/>
<rect x="1968.2" y="809.5" width="2.1" height="360" fill="#E8E8E8"/>
<rect x="1970" y="809.5" width="5" height="360" fill="#C4C4C4"/>
<rect x="1974.7" y="809.5" width="15.3" height="360" fill="#E8E8E8"/>
<rect x="1989.7" y="809.5" width="3.1" height="360" fill="#ACACAC"/>
<rect x="1992.5" y="809.5" width="9.6" height="360" fill="#999999"/>
<rect x="2001.8" y="809.5" width="4.6" height="360" fill="#D8D8D8"/>
<rect x="2006.1" y="809.5" width="9.1" height="360" fill="#999999"/>
<rect x="2014.9" y="809.5" width="3.1" height="360" fill="#ACACAC"/>
<rect x="2017.7" y="809.5" width="3.6" height="360" fill="#D8D8D8"/>
<line x1="155.5" y1="809" x2="155.5" y2="1170.5" stroke="#1010C8" stroke-width="1.7"/>
<line x1="155.5" y1="1151.5" x2="183.5" y2="1151.5" stroke="#1010C8" stroke-width="1.4"/>
<line x1="155.5" y1="1133.5" x2="183.5" y2="1133.5" stroke="#1010C8" stroke-width="1.4"/>
<line x1="155.5" y1="1115.5" x2="183.5" y2="1115.5" stroke="#1010C8" stroke-width="1.4"/>
<line x1="155.5" y1="1079.5" x2="183.5" y2="1079.5" stroke="#1010C8" stroke-width="1.4"/>
<line x1="155.5" y1="1061.5" x2="183.5" y2="1061.5" stroke="#1010C8" stroke-width="1.4"/>
<line x1="155.5" y1="1043.5" x2="183.5" y2="1043.5" stroke="#1010C8" stroke-width="1.4"/>
<line x1="155.5" y1="1007.5" x2="183.5" y2="1007.5" stroke="#1010C8" stroke-width="1.4"/>
<line x1="155.5" y1="989.5" x2="183.5" y2="989.5" stroke="#1010C8" stroke-width="1.4"/>
<line x1="155.5" y1="971.5" x2="183.5" y2="971.5" stroke="#1010C8" stroke-width="1.4"/>
<line x1="155.5" y1="935.5" x2="183.5" y2="935.5" stroke="#1010C8" stroke-width="1.4"/>
<line x1="155.5" y1="917.5" x2="183.5" y2="917.5" stroke="#1010C8" stroke-width="1.4"/>
<line x1="155.5" y1="899.5" x2="183.5" y2="899.5" stroke="#1010C8" stroke-width="1.4"/>
<line x1="155.5" y1="863.5" x2="183.5" y2="863.5" stroke="#1010C8" stroke-width="1.4"/>
<line x1="155.5" y1="845.5" x2="183.5" y2="845.5" stroke="#1010C8" stroke-width="1.4"/>
<line x1="155.5" y1="827.5" x2="183.5" y2="827.5" stroke="#1010C8" stroke-width="1.4"/>
<rect x="155.5" y="1123.5" width="10.25" height="46" fill="#3050F0"/>
<rect x="226" y="1126.9" width="60.25" height="42.6" fill="#3050F0"/>
<rect x="406.75" y="1102" width="60.25" height="67.5" fill="#3050F0"/>
<rect x="1069.5" y="953.7" width="60.25" height="215.8" fill="#3050F0"/>
<rect x="1129.75" y="1165.8" width="60.25" height="3.7" fill="#3050F0"/>
<rect x="1190" y="1134.2" width="60.25" height="35.3" fill="#3050F0"/>
<rect x="1491.25" y="1165.8" width="60.25" height="3.7" fill="#3050F0"/>
<rect x="1913" y="1165.8" width="60.25" height="3.7" fill="#3050F0"/>
<rect x="1973.25" y="1140.5" width="47.75" height="29" fill="#3050F0"/>
<path d="M155.5 1123.5 H165.75 V1169.9 H226 V1126.9 H286.25 V1169.9 H406.75 V1102 H467 V1169.9 H1069.5 V953.7 H1129.75 V1169.9 V1165.8 H1190 V1169.9 V1134.2 H1250.25 V1169.9 H1491.25 V1165.8 H1551.5 V1169.9 H1913 V1165.8 H1973.25 V1169.9 V1140.5 H2021" fill="none" stroke="#000" stroke-width="2.4" stroke-linejoin="miter"/>
<line x1="155.5" y1="1169.5" x2="2021" y2="1169.5" stroke="#1010C8" stroke-width="1.2" stroke-dasharray="7 7" stroke-dashoffset="12.5"/>
<line x1="160.5" y1="1097.5" x2="2021" y2="1097.5" stroke="#1010C8" stroke-width="1.2" stroke-dasharray="7 7" stroke-dashoffset="9.5"/>
<line x1="160.5" y1="1025.5" x2="2021" y2="1025.5" stroke="#1010C8" stroke-width="1.2" stroke-dasharray="7 7" stroke-dashoffset="9.5"/>
<line x1="160.5" y1="953.5" x2="2021" y2="953.5" stroke="#1010C8" stroke-width="1.2" stroke-dasharray="7 7" stroke-dashoffset="9.5"/>
<line x1="160.5" y1="881.5" x2="2021" y2="881.5" stroke="#1010C8" stroke-width="1.2" stroke-dasharray="7 7" stroke-dashoffset="9.5"/>
<line x1="155.5" y1="809.5" x2="2021" y2="809.5" stroke="#1010C8" stroke-width="1.2" stroke-dasharray="7 7" stroke-dashoffset="12.5"/>
<text transform="translate(104 833.8) scale(1.1492 1)" font-size="31.3" fill="#0808A8" font-weight="bold">10</text>
<text transform="translate(124.08 895.6) scale(1.1161 1)" font-size="31.3" fill="#0808A8" font-weight="bold">8</text>
<text transform="translate(124.07 968) scale(1.1344 1)" font-size="31.3" fill="#0808A8" font-weight="bold">6</text>
<text transform="translate(124.68 1040.1) scale(1.0328 1)" font-size="31.3" fill="#0808A8" font-weight="bold">4</text>
<text transform="translate(124.07 1111.6) scale(1.1344 1)" font-size="31.3" fill="#0808A8" font-weight="bold">2</text>
<text transform="translate(123.73 1170) scale(1.1729 1)" font-size="31.3" fill="#0808A8" font-weight="bold">0</text>
<text transform="translate(45.73 1104.35) rotate(-90) scale(1.0757 1)" font-size="33.46" fill="#0808A8" stroke="#0808A8" stroke-width="0.74" stroke-linejoin="round">Осадки (mm)</text>
<text transform="translate(2087.83 1142.33) rotate(-90) scale(1.0649 1)" font-size="33.46" fill="#707070" stroke="#707070" stroke-width="0.74" stroke-linejoin="round">Облачный покров</text>
<line x1="2020.5" y1="1295" x2="2020.5" y2="1710.5" stroke="#7050A0" stroke-width="2.6"/>
<polygon points="155.5,1439.1 196.5,1439.1 256.75,1578.2 317,1524.3 377.25,1461.7 437.5,1473 497.75,1577.7 558,1577.7 618.25,1590.5 678.5,1604.5 738.75,1472.5 799,1485.5 859.25,1536.9 919.5,1519.3 979.75,1548.2 1040,1612.1 1100.25,1470.5 1160.5,1318.8 1220.75,1307.6 1281,1399 1341.25,1610.8 1401.5,1584.5 1461.75,1540.6 1522,1315.5 1582.25,1556.9 1642.5,1489.3 1702.75,1546.9 1763,1491.8 1823.25,1479.2 1883.5,1515.6 1943.75,1540.6 1988.7,1508.1 1993.7,1499.3 2020.5,1499.3 2020.5,1635.9 1993.7,1635.9 1988.7,1653.4 1943.75,1703 1883.5,1703 1823.25,1657.2 1763,1694.8 1702.75,1632.9 1642.5,1638.4 1582.25,1645.9 1522,1615.2 1461.75,1645.9 1401.5,1701 1341.25,1688.5 1281,1678.5 1220.75,1487.5 1160.5,1543.1 1100.25,1650.3 1040,1709 979.75,1698.5 919.5,1617.8 859.25,1609.6 799,1642.1 738.75,1623.3 678.5,1632.9 618.25,1702.3 558,1683.5 497.75,1651.4 437.5,1667.2 377.25,1617.1 317,1635.9 256.75,1647.2 196.5,1647.9 155.5,1647.9" fill="#DFF0FA"/>
<line x1="176" y1="1709.8" x2="2020" y2="1709.8" stroke="#000" stroke-width="2.3" stroke-dasharray="8 6" stroke-dashoffset="4.1"/>
<line x1="186" y1="1617.91" x2="2020" y2="1617.91" stroke="#000" stroke-width="2.3" stroke-dasharray="8 6" stroke-dashoffset="0.1"/>
<line x1="186" y1="1526.02" x2="2020" y2="1526.02" stroke="#000" stroke-width="2.3" stroke-dasharray="8 6" stroke-dashoffset="0.1"/>
<line x1="186" y1="1434.13" x2="2020" y2="1434.13" stroke="#000" stroke-width="2.3" stroke-dasharray="8 6" stroke-dashoffset="0.1"/>
<line x1="186" y1="1342.24" x2="2020" y2="1342.24" stroke="#000" stroke-width="2.3" stroke-dasharray="8 6" stroke-dashoffset="0.1"/>
<clipPath id="c3"><rect x="155.5" y="1294.5" width="1866" height="416.5"/></clipPath>
<g fill="#7050A0" clip-path="url(#c3)">
<circle cx="153.8" cy="1476.7" r="4.2"/>
<circle cx="156.21" cy="1477.76" r="4.2"/>
<circle cx="155.54" cy="1478.71" r="4.2"/>
<circle cx="158" cy="1482" r="4.2"/>
<circle cx="159.95" cy="1484.12" r="4.2"/>
<circle cx="162.5" cy="1484" r="4.2"/>
<circle cx="164.38" cy="1482.5" r="4.2"/>
<circle cx="164.85" cy="1481.9" r="4.2"/>
<circle cx="166.81" cy="1476.71" r="4.2"/>
<circle cx="168.8" cy="1475.5" r="4.2"/>
<circle cx="170.56" cy="1474.3" r="4.2"/>
<circle cx="170.82" cy="1468.74" r="4.2"/>
<circle cx="169.9" cy="1466.06" r="4.2"/>
<circle cx="171.3" cy="1465.5" r="4.2"/>
<circle cx="172.8" cy="1462.66" r="4.2"/>
<circle cx="172.64" cy="1461.67" r="4.2"/>
<circle cx="174.54" cy="1456.43" r="4.2"/>
<circle cx="174.1" cy="1454.11" r="4.2"/>
<circle cx="175" cy="1451.7" r="4.2"/>
<circle cx="183.8" cy="1420.3" r="4.2"/>
<circle cx="185.18" cy="1417.58" r="4.2"/>
<circle cx="185.45" cy="1416.73" r="4.2"/>
<circle cx="186.47" cy="1412.78" r="4.2"/>
<circle cx="186.65" cy="1412.44" r="4.2"/>
<circle cx="187.6" cy="1407.8" r="4.2"/>
<circle cx="188.14" cy="1404.73" r="4.2"/>
<circle cx="189.49" cy="1400.66" r="4.2"/>
<circle cx="189.25" cy="1402.32" r="4.2"/>
<circle cx="191.4" cy="1397.8" r="4.2"/>
<circle cx="193.1" cy="1374.7" r="4.2"/>
<circle cx="195.9" cy="1361.9" r="4.2"/>
<circle cx="198.4" cy="1338.1" r="4.2"/>
<circle cx="201.4" cy="1303.8" r="4.2"/>
<circle cx="204" cy="1297" r="4.2"/>
<circle cx="205.95" cy="1297.97" r="4.2"/>
<circle cx="209.53" cy="1298.64" r="4.2"/>
<circle cx="213.17" cy="1297.5" r="4.2"/>
<circle cx="215.7" cy="1295.56" r="4.2"/>
<circle cx="217.29" cy="1296.94" r="4.2"/>
<circle cx="220.67" cy="1295.67" r="4.2"/>
<circle cx="222.7" cy="1297.5" r="4.2"/>
<circle cx="222.7" cy="1298.8" r="4.2"/>
<circle cx="223.59" cy="1300.67" r="4.2"/>
<circle cx="224.02" cy="1304.04" r="4.2"/>
<circle cx="226.17" cy="1306.91" r="4.2"/>
<circle cx="227.41" cy="1309.11" r="4.2"/>
<circle cx="227.7" cy="1311.3" r="4.2"/>
<circle cx="229" cy="1313.31" r="4.2"/>
<circle cx="229.38" cy="1315.63" r="4.2"/>
<circle cx="231.5" cy="1317.6" r="4.2"/>
<circle cx="231.65" cy="1320.26" r="4.2"/>
<circle cx="231.83" cy="1320.97" r="4.2"/>
<circle cx="234.12" cy="1324.19" r="4.2"/>
<circle cx="234" cy="1326.4" r="4.2"/>
<circle cx="235" cy="1329.72" r="4.2"/>
<circle cx="237.36" cy="1333.44" r="4.2"/>
<circle cx="237.7" cy="1333.9" r="4.2"/>
<circle cx="237.99" cy="1337.9" r="4.2"/>
<circle cx="239.14" cy="1338.3" r="4.2"/>
<circle cx="239.77" cy="1339.58" r="4.2"/>
<circle cx="241.5" cy="1343.9" r="4.2"/>
<circle cx="243" cy="1343.41" r="4.2"/>
<circle cx="246.5" cy="1345.2" r="4.2"/>
<circle cx="246.17" cy="1348.78" r="4.2"/>
<circle cx="247.18" cy="1348.98" r="4.2"/>
<circle cx="249" cy="1352.7" r="4.2"/>
<circle cx="250.5" cy="1356.06" r="4.2"/>
<circle cx="250.91" cy="1358.67" r="4.2"/>
<circle cx="252.8" cy="1360.2" r="4.2"/>
<circle cx="254.05" cy="1359.75" r="4.2"/>
<circle cx="255.82" cy="1357.94" r="4.2"/>
<circle cx="257.8" cy="1353.9" r="4.2"/>
<circle cx="259.52" cy="1353" r="4.2"/>
<circle cx="262.8" cy="1351.4" r="4.2"/>
<circle cx="263.29" cy="1351.71" r="4.2"/>
<circle cx="265.49" cy="1355.96" r="4.2"/>
<circle cx="266.5" cy="1358.9" r="4.2"/>
<circle cx="267.59" cy="1362.57" r="4.2"/>
<circle cx="266.99" cy="1364.65" r="4.2"/>
<circle cx="267.28" cy="1367.93" r="4.2"/>
<circle cx="269" cy="1370.2" r="4.2"/>
<circle cx="270.74" cy="1370.74" r="4.2"/>
<circle cx="272.8" cy="1374" r="4.2"/>
<circle cx="274.17" cy="1371.74" r="4.2"/>
<circle cx="276.6" cy="1371.5" r="4.2"/>
<circle cx="276.87" cy="1367.49" r="4.2"/>
<circle cx="277.7" cy="1364.05" r="4.2"/>
<circle cx="278.3" cy="1362.7" r="4.2"/>
<circle cx="278.99" cy="1359.92" r="4.2"/>
<circle cx="280.98" cy="1355.97" r="4.2"/>
<circle cx="281.53" cy="1352.84" r="4.2"/>
<circle cx="281.6" cy="1352.2" r="4.2"/>
<circle cx="283.3" cy="1335.1" r="4.2"/>
<circle cx="286.6" cy="1313.8" r="4.2"/>
<circle cx="288.6" cy="1300" r="4.2"/>
<circle cx="206.4" cy="1706" r="4.2"/>
<circle cx="209.09" cy="1705.27" r="4.2"/>
<circle cx="208.88" cy="1701.53" r="4.2"/>
<circle cx="211.4" cy="1702.3" r="4.2"/>
<circle cx="213.48" cy="1704.71" r="4.2"/>
<circle cx="215.03" cy="1705.93" r="4.2"/>
<circle cx="217.7" cy="1706.6" r="4.2"/>
<circle cx="291.6" cy="1698.5" r="4.2"/>
<circle cx="292.9" cy="1688.5" r="4.2"/>
<circle cx="296.1" cy="1679" r="4.2"/>
<circle cx="297.79" cy="1674.36" r="4.2"/>
<circle cx="297.22" cy="1672.16" r="4.2"/>
<circle cx="298.52" cy="1669.44" r="4.2"/>
<circle cx="299.1" cy="1668.5" r="4.2"/>
<circle cx="301.43" cy="1664.01" r="4.2"/>
<circle cx="300.93" cy="1665.21" r="4.2"/>
<circle cx="302.9" cy="1660.9" r="4.2"/>
<circle cx="303.05" cy="1660.03" r="4.2"/>
<circle cx="304.24" cy="1654.75" r="4.2"/>
<circle cx="306.6" cy="1654.7" r="4.2"/>
<circle cx="308.07" cy="1652.61" r="4.2"/>
<circle cx="309.67" cy="1651.67" r="4.2"/>
<circle cx="312.32" cy="1649.01" r="4.2"/>
<circle cx="312.9" cy="1647.2" r="4.2"/>
<circle cx="319.2" cy="1608.3" r="4.2"/>
<circle cx="325.4" cy="1559.4" r="4.2"/>
<circle cx="326.98" cy="1557.12" r="4.2"/>
<circle cx="328.44" cy="1554.4" r="4.2"/>
<circle cx="327.31" cy="1552.29" r="4.2"/>
<circle cx="329.2" cy="1548.2" r="4.2"/>
<circle cx="331.01" cy="1544.17" r="4.2"/>
<circle cx="331.23" cy="1543.59" r="4.2"/>
<circle cx="332.25" cy="1538.89" r="4.2"/>
<circle cx="334.2" cy="1538.1" r="4.2"/>
<circle cx="334.9" cy="1535.74" r="4.2"/>
<circle cx="336.54" cy="1534.94" r="4.2"/>
<circle cx="338.7" cy="1530.96" r="4.2"/>
<circle cx="339.2" cy="1528.1" r="4.2"/>
<circle cx="339.62" cy="1523.53" r="4.2"/>
<circle cx="342.51" cy="1521.3" r="4.2"/>
<circle cx="344.68" cy="1519.72" r="4.2"/>
<circle cx="345.5" cy="1518.1" r="4.2"/>
<circle cx="347.16" cy="1517.22" r="4.2"/>
<circle cx="348.13" cy="1514.4" r="4.2"/>
<circle cx="347.55" cy="1511.38" r="4.2"/>
<circle cx="349.2" cy="1509.3" r="4.2"/>
<circle cx="355.5" cy="1470.5" r="4.2"/>
<circle cx="357.72" cy="1466.25" r="4.2"/>
<circle cx="359.53" cy="1465.25" r="4.2"/>
<circle cx="359.22" cy="1461.67" r="4.2"/>
<circle cx="361.8" cy="1460.4" r="4.2"/>
<circle cx="363.6" cy="1456.99" r="4.2"/>
<circle cx="364.83" cy="1455.73" r="4.2"/>
<circle cx="365.04" cy="1452.34" r="4.2"/>
<circle cx="365.76" cy="1452.74" r="4.2"/>
<circle cx="366.8" cy="1449.2" r="4.2"/>
<circle cx="367.54" cy="1450.96" r="4.2"/>
<circle cx="370.6" cy="1450.4" r="4.2"/>
<circle cx="376.8" cy="1496.8" r="4.2"/>
<circle cx="378.52" cy="1492.92" r="4.2"/>
<circle cx="381.08" cy="1490.51" r="4.2"/>
<circle cx="381.8" cy="1490.5" r="4.2"/>
<circle cx="383.12" cy="1486.34" r="4.2"/>
<circle cx="383.74" cy="1483.54" r="4.2"/>
<circle cx="385.6" cy="1483" r="4.2"/>
<circle cx="388.25" cy="1482.94" r="4.2"/>
<circle cx="389.05" cy="1481.36" r="4.2"/>
<circle cx="390.6" cy="1479.2" r="4.2"/>
<circle cx="392.74" cy="1477.47" r="4.2"/>
<circle cx="394.03" cy="1477.33" r="4.2"/>
<circle cx="396.9" cy="1479.2" r="4.2"/>
<circle cx="399.51" cy="1480.95" r="4.2"/>
<circle cx="401.62" cy="1479.65" r="4.2"/>
<circle cx="403.1" cy="1478" r="4.2"/>
<circle cx="414.4" cy="1447.9" r="4.2"/>
<circle cx="413.88" cy="1445.49" r="4.2"/>
<circle cx="416.18" cy="1441.78" r="4.2"/>
<circle cx="417.14" cy="1438.59" r="4.2"/>
<circle cx="416.9" cy="1437.9" r="4.2"/>
<circle cx="417.52" cy="1434.44" r="4.2"/>
<circle cx="418.47" cy="1435.56" r="4.2"/>
<circle cx="418.01" cy="1431.68" r="4.2"/>
<circle cx="419.4" cy="1429.1" r="4.2"/>
<circle cx="421.37" cy="1427.85" r="4.2"/>
<circle cx="420.69" cy="1425.35" r="4.2"/>
<circle cx="421.9" cy="1421.6" r="4.2"/>
<circle cx="423.08" cy="1419.3" r="4.2"/>
<circle cx="424.92" cy="1419.1" r="4.2"/>
<circle cx="425.7" cy="1415.3" r="4.2"/>
<circle cx="425.24" cy="1410.94" r="4.2"/>
<circle cx="426.18" cy="1410.84" r="4.2"/>
<circle cx="428.89" cy="1408.21" r="4.2"/>
<circle cx="429.19" cy="1407.17" r="4.2"/>
<circle cx="429.4" cy="1402.8" r="4.2"/>
<circle cx="429.8" cy="1400" r="4.2"/>
<circle cx="432.22" cy="1399.96" r="4.2"/>
<circle cx="432.46" cy="1395.86" r="4.2"/>
<circle cx="434.5" cy="1394" r="4.2"/>
<circle cx="434.76" cy="1394.7" r="4.2"/>
<circle cx="438.1" cy="1396.03" r="4.2"/>
<circle cx="438.2" cy="1400.3" r="4.2"/>
<circle cx="438.06" cy="1403.95" r="4.2"/>
<circle cx="439.55" cy="1406.69" r="4.2"/>
<circle cx="438.36" cy="1407.57" r="4.2"/>
<circle cx="439.5" cy="1411.6" r="4.2"/>
<circle cx="440.5" cy="1414.98" r="4.2"/>
<circle cx="440.32" cy="1417.32" r="4.2"/>
<circle cx="441.95" cy="1418.68" r="4.2"/>
<circle cx="442.7" cy="1422.3" r="4.2"/>
<circle cx="444.5" cy="1449.2" r="4.2"/>
<circle cx="445.25" cy="1453.66" r="4.2"/>
<circle cx="444.78" cy="1452.78" r="4.2"/>
<circle cx="446.68" cy="1456.85" r="4.2"/>
<circle cx="447.3" cy="1459.7" r="4.2"/>
<circle cx="446.4" cy="1461.38" r="4.2"/>
<circle cx="447" cy="1464.2" r="4.2"/>
<circle cx="447.58" cy="1465.8" r="4.2"/>
<circle cx="450.29" cy="1467.65" r="4.2"/>
<circle cx="450.8" cy="1470.5" r="4.2"/>
<circle cx="452.25" cy="1474.05" r="4.2"/>
<circle cx="452.61" cy="1473.83" r="4.2"/>
<circle cx="454.5" cy="1475.5" r="4.2"/>
<circle cx="455.47" cy="1478.35" r="4.2"/>
<circle cx="458.3" cy="1479.2" r="4.2"/>
<circle cx="458.47" cy="1482.34" r="4.2"/>
<circle cx="459.6" cy="1484.78" r="4.2"/>
<circle cx="459.77" cy="1486.65" r="4.2"/>
<circle cx="459.8" cy="1491.17" r="4.2"/>
<circle cx="460.8" cy="1491.8" r="4.2"/>
<circle cx="461.25" cy="1494.78" r="4.2"/>
<circle cx="461.79" cy="1497.21" r="4.2"/>
<circle cx="461.28" cy="1501.47" r="4.2"/>
<circle cx="462.79" cy="1501.91" r="4.2"/>
<circle cx="463.3" cy="1504.3" r="4.2"/>
<circle cx="464.5" cy="1546.9" r="4.2"/>
<circle cx="467" cy="1628.9" r="4.2"/>
<circle cx="468.14" cy="1630.99" r="4.2"/>
<circle cx="469.56" cy="1635.32" r="4.2"/>
<circle cx="469.75" cy="1636.85" r="4.2"/>
<circle cx="470.62" cy="1639.21" r="4.2"/>
<circle cx="472" cy="1642.1" r="4.2"/>
<circle cx="473.26" cy="1643.5" r="4.2"/>
<circle cx="475.8" cy="1644.6" r="4.2"/>
<circle cx="483.3" cy="1679.7" r="4.2"/>
<circle cx="484.32" cy="1677.15" r="4.2"/>
<circle cx="486.24" cy="1677.77" r="4.2"/>
<circle cx="487.1" cy="1674.7" r="4.2"/>
<circle cx="488.03" cy="1670.69" r="4.2"/>
<circle cx="488.07" cy="1669.69" r="4.2"/>
<circle cx="489.6" cy="1667.72" r="4.2"/>
<circle cx="490.9" cy="1666" r="4.2"/>
<circle cx="497.1" cy="1645.9" r="4.2"/>
<circle cx="503.9" cy="1548.7" r="4.2"/>
<circle cx="507.1" cy="1528.6" r="4.2"/>
<circle cx="508.9" cy="1506.8" r="4.2"/>
<circle cx="512.2" cy="1493" r="4.2"/>
<circle cx="513.44" cy="1489.51" r="4.2"/>
<circle cx="515.9" cy="1490.39" r="4.2"/>
<circle cx="517.2" cy="1487.5" r="4.2"/>
<circle cx="520.87" cy="1486.09" r="4.2"/>
<circle cx="523.31" cy="1487.08" r="4.2"/>
<circle cx="524.7" cy="1486.8" r="4.2"/>
<circle cx="527.2" cy="1464.2" r="4.2"/>
<circle cx="529.7" cy="1436.6" r="4.2"/>
<circle cx="530.56" cy="1432.58" r="4.2"/>
<circle cx="532.51" cy="1433.42" r="4.2"/>
<circle cx="533.5" cy="1429.1" r="4.2"/>
<circle cx="534.67" cy="1428.68" r="4.2"/>
<circle cx="536.49" cy="1424.69" r="4.2"/>
<circle cx="537.28" cy="1422.5" r="4.2"/>
<circle cx="537.2" cy="1420.3" r="4.2"/>
<circle cx="539.2" cy="1407.3" r="4.2"/>
<circle cx="542.2" cy="1393.3" r="4.2"/>
<circle cx="544.2" cy="1372" r="4.2"/>
<circle cx="547.2" cy="1296.5" r="4.2"/>
<circle cx="548.5" cy="1696.5" r="4.2"/>
<circle cx="557.3" cy="1667.2" r="4.2"/>
<circle cx="559" cy="1641.6" r="4.2"/>
<circle cx="565.3" cy="1602.8" r="4.2"/>
<circle cx="570.3" cy="1561.9" r="4.2"/>
<circle cx="572.3" cy="1548.7" r="4.2"/>
<circle cx="573.12" cy="1546.85" r="4.2"/>
<circle cx="574.95" cy="1542.18" r="4.2"/>
<circle cx="574.99" cy="1539.88" r="4.2"/>
<circle cx="576.1" cy="1538.1" r="4.2"/>
<circle cx="576.74" cy="1534.97" r="4.2"/>
<circle cx="577.04" cy="1535.79" r="4.2"/>
<circle cx="578.51" cy="1533.13" r="4.2"/>
<circle cx="579.8" cy="1529.4" r="4.2"/>
<circle cx="580.71" cy="1526.47" r="4.2"/>
<circle cx="583.19" cy="1524.32" r="4.2"/>
<circle cx="583.63" cy="1521.95" r="4.2"/>
<circle cx="584.8" cy="1519.3" r="4.2"/>
<circle cx="588.6" cy="1321.3" r="4.2"/>
<circle cx="589.55" cy="1323.83" r="4.2"/>
<circle cx="591.58" cy="1327.7" r="4.2"/>
<circle cx="592.4" cy="1328.9" r="4.2"/>
<circle cx="594.19" cy="1327.63" r="4.2"/>
<circle cx="594.62" cy="1321.75" r="4.2"/>
<circle cx="595.06" cy="1321.35" r="4.2"/>
<circle cx="595.28" cy="1317.33" r="4.2"/>
<circle cx="597.74" cy="1316.17" r="4.2"/>
<circle cx="597.4" cy="1312.6" r="4.2"/>
<circle cx="598.14" cy="1308.77" r="4.2"/>
<circle cx="600.78" cy="1306.44" r="4.2"/>
<circle cx="601.1" cy="1306.3" r="4.2"/>
<circle cx="602.29" cy="1304.91" r="4.2"/>
<circle cx="605.38" cy="1305.12" r="4.2"/>
<circle cx="606.1" cy="1301.3" r="4.2"/>
<circle cx="608.79" cy="1299.04" r="4.2"/>
<circle cx="611.67" cy="1299.82" r="4.2"/>
<circle cx="613.7" cy="1297.5" r="4.2"/>
<circle cx="622.4" cy="1679" r="4.2"/>
<circle cx="626.2" cy="1503" r="4.2"/>
<circle cx="629.14" cy="1500.95" r="4.2"/>
<circle cx="629.83" cy="1497.77" r="4.2"/>
<circle cx="632.12" cy="1496.71" r="4.2"/>
<circle cx="633.7" cy="1495.5" r="4.2"/>
<circle cx="634.33" cy="1493" r="4.2"/>
<circle cx="635.92" cy="1491.78" r="4.2"/>
<circle cx="637.64" cy="1486.98" r="4.2"/>
<circle cx="637.5" cy="1485.5" r="4.2"/>
<circle cx="638.5" cy="1483.67" r="4.2"/>
<circle cx="642.15" cy="1482.49" r="4.2"/>
<circle cx="644.13" cy="1481.4" r="4.2"/>
<circle cx="645" cy="1478" r="4.2"/>
<circle cx="647.1" cy="1434.6" r="4.2"/>
<circle cx="650.1" cy="1413.3" r="4.2"/>
<circle cx="652.1" cy="1394.8" r="4.2"/>
<circle cx="655.1" cy="1379.7" r="4.2"/>
<circle cx="664.7" cy="1372.7" r="4.2"/>
<circle cx="659.6" cy="1364.7" r="4.2"/>
<circle cx="667.2" cy="1338.4" r="4.2"/>
<circle cx="670.2" cy="1320.8" r="4.2"/>
<circle cx="672.2" cy="1296.5" r="4.2"/>
<circle cx="675.2" cy="1696" r="4.2"/>
<circle cx="677.2" cy="1682.2" r="4.2"/>
<circle cx="680.2" cy="1665.5" r="4.2"/>
<circle cx="682.7" cy="1648.9" r="4.2"/>
<circle cx="708.3" cy="1605.8" r="4.2"/>
<circle cx="710.3" cy="1639.6" r="4.2"/>
<circle cx="714" cy="1654.7" r="4.2"/>
<circle cx="716.72" cy="1652.79" r="4.2"/>
<circle cx="717.29" cy="1650.31" r="4.2"/>
<circle cx="719.65" cy="1649.25" r="4.2"/>
<circle cx="720.3" cy="1647.2" r="4.2"/>
<circle cx="722.48" cy="1646.27" r="4.2"/>
<circle cx="723.16" cy="1651.53" r="4.2"/>
<circle cx="725.3" cy="1650.9" r="4.2"/>
<circle cx="726.14" cy="1652.89" r="4.2"/>
<circle cx="727.26" cy="1656.33" r="4.2"/>
<circle cx="728.27" cy="1658.33" r="4.2"/>
<circle cx="729.1" cy="1659.7" r="4.2"/>
<circle cx="730.35" cy="1660.77" r="4.2"/>
<circle cx="733.22" cy="1660.71" r="4.2"/>
<circle cx="735.16" cy="1664.64" r="4.2"/>
<circle cx="736.6" cy="1664.7" r="4.2"/>
<circle cx="738.55" cy="1664.17" r="4.2"/>
<circle cx="738.83" cy="1659.28" r="4.2"/>
<circle cx="740.4" cy="1658.4" r="4.2"/>
<circle cx="740.88" cy="1655.41" r="4.2"/>
<circle cx="742.58" cy="1653.6" r="4.2"/>
<circle cx="742.85" cy="1648.82" r="4.2"/>
<circle cx="742.9" cy="1648.4" r="4.2"/>
<circle cx="743.86" cy="1647.83" r="4.2"/>
<circle cx="745.12" cy="1642.21" r="4.2"/>
<circle cx="747.48" cy="1644.23" r="4.2"/>
<circle cx="747.9" cy="1640.4" r="4.2"/>
<circle cx="753.4" cy="1610.8" r="4.2"/>
<circle cx="755.17" cy="1608.33" r="4.2"/>
<circle cx="754.64" cy="1606.45" r="4.2"/>
<circle cx="756.6" cy="1603.3" r="4.2"/>
<circle cx="757.83" cy="1601.05" r="4.2"/>
<circle cx="761.75" cy="1599.57" r="4.2"/>
<circle cx="762.9" cy="1597" r="4.2"/>
<circle cx="765.4" cy="1617.1" r="4.2"/>
<circle cx="772.9" cy="1647.2" r="4.2"/>
<circle cx="775.52" cy="1648.36" r="4.2"/>
<circle cx="776.51" cy="1649.91" r="4.2"/>
<circle cx="777.9" cy="1653.4" r="4.2"/>
<circle cx="781.43" cy="1655.92" r="4.2"/>
<circle cx="782.76" cy="1656.8" r="4.2"/>
<circle cx="785.5" cy="1657.2" r="4.2"/>
<circle cx="788.09" cy="1661.07" r="4.2"/>
<circle cx="788.77" cy="1661.15" r="4.2"/>
<circle cx="790.5" cy="1663.4" r="4.2"/>
<circle cx="791.86" cy="1663.58" r="4.2"/>
<circle cx="794.39" cy="1663.8" r="4.2"/>
<circle cx="797.49" cy="1665" r="4.2"/>
<circle cx="800.5" cy="1664.7" r="4.2"/>
<circle cx="803.76" cy="1664.34" r="4.2"/>
<circle cx="805" cy="1665.18" r="4.2"/>
<circle cx="809.14" cy="1664.15" r="4.2"/>
<circle cx="810.87" cy="1663.73" r="4.2"/>
<circle cx="813" cy="1666" r="4.2"/>
<circle cx="815.58" cy="1666.79" r="4.2"/>
<circle cx="818" cy="1667.2" r="4.2"/>
<circle cx="820.6" cy="1655.9" r="4.2"/>
<circle cx="820.64" cy="1655.34" r="4.2"/>
<circle cx="821.47" cy="1652.75" r="4.2"/>
<circle cx="822.06" cy="1647.14" r="4.2"/>
<circle cx="823.93" cy="1644.95" r="4.2"/>
<circle cx="824.3" cy="1643.4" r="4.2"/>
<circle cx="826.31" cy="1644.31" r="4.2"/>
<circle cx="827.39" cy="1645.38" r="4.2"/>
<circle cx="827.16" cy="1648.03" r="4.2"/>
<circle cx="829.3" cy="1650.9" r="4.2"/>
<circle cx="830.43" cy="1652.05" r="4.2"/>
<circle cx="831.47" cy="1655.64" r="4.2"/>
<circle cx="832.06" cy="1660.41" r="4.2"/>
<circle cx="833.1" cy="1660.9" r="4.2"/>
<circle cx="832.9" cy="1662.57" r="4.2"/>
<circle cx="835.6" cy="1667.68" r="4.2"/>
<circle cx="836.75" cy="1669.37" r="4.2"/>
<circle cx="836.8" cy="1672.2" r="4.2"/>
<circle cx="837.75" cy="1675.28" r="4.2"/>
<circle cx="838.61" cy="1678.25" r="4.2"/>
<circle cx="840.6" cy="1679.7" r="4.2"/>
<circle cx="843.59" cy="1678.32" r="4.2"/>
<circle cx="844.3" cy="1678" r="4.2"/>
<circle cx="846.9" cy="1679.7" r="4.2"/>
<circle cx="849.4" cy="1666" r="4.2"/>
<circle cx="851.26" cy="1662.95" r="4.2"/>
<circle cx="851.93" cy="1660.02" r="4.2"/>
<circle cx="853.1" cy="1659.7" r="4.2"/>
<circle cx="854.01" cy="1658.13" r="4.2"/>
<circle cx="855.6" cy="1655.4" r="4.2"/>
<circle cx="858.1" cy="1641.4" r="4.2"/>
<circle cx="861.2" cy="1622.1" r="4.2"/>
<circle cx="865.7" cy="1598.3" r="4.2"/>
<circle cx="868.2" cy="1588.3" r="4.2"/>
<circle cx="885.7" cy="1589.5" r="4.2"/>
<circle cx="890.7" cy="1624.6" r="4.2"/>
<circle cx="893.52" cy="1626.83" r="4.2"/>
<circle cx="894.75" cy="1627.66" r="4.2"/>
<circle cx="895.7" cy="1629.6" r="4.2"/>
<circle cx="896.36" cy="1630.22" r="4.2"/>
<circle cx="898.16" cy="1634.9" r="4.2"/>
<circle cx="900.8" cy="1635.9" r="4.2"/>
<circle cx="903.05" cy="1636.53" r="4.2"/>
<circle cx="903.02" cy="1640.5" r="4.2"/>
<circle cx="905.8" cy="1640.9" r="4.2"/>
<circle cx="907.39" cy="1641.48" r="4.2"/>
<circle cx="908.83" cy="1644.43" r="4.2"/>
<circle cx="910.07" cy="1646.77" r="4.2"/>
<circle cx="910.8" cy="1648.4" r="4.2"/>
<circle cx="913.04" cy="1644.6" r="4.2"/>
<circle cx="912.17" cy="1645.05" r="4.2"/>
<circle cx="915.4" cy="1641.76" r="4.2"/>
<circle cx="915.8" cy="1640.9" r="4.2"/>
<circle cx="923.3" cy="1600.8" r="4.2"/>
<circle cx="930.8" cy="1569.5" r="4.2"/>
<circle cx="932.66" cy="1568.59" r="4.2"/>
<circle cx="933.14" cy="1566.3" r="4.2"/>
<circle cx="933.54" cy="1563.05" r="4.2"/>
<circle cx="935.8" cy="1560.7" r="4.2"/>
<circle cx="938.03" cy="1558.6" r="4.2"/>
<circle cx="940.59" cy="1561.64" r="4.2"/>
<circle cx="942.1" cy="1559.4" r="4.2"/>
<circle cx="943.78" cy="1559.99" r="4.2"/>
<circle cx="944.54" cy="1563.17" r="4.2"/>
<circle cx="945.23" cy="1563.42" r="4.2"/>
<circle cx="947.1" cy="1567" r="4.2"/>
<circle cx="947.49" cy="1568.93" r="4.2"/>
<circle cx="947.48" cy="1573.27" r="4.2"/>
<circle cx="948.5" cy="1573.87" r="4.2"/>
<circle cx="949.6" cy="1577" r="4.2"/>
<circle cx="949.97" cy="1578.19" r="4.2"/>
<circle cx="950.82" cy="1581.09" r="4.2"/>
<circle cx="951.97" cy="1583.39" r="4.2"/>
<circle cx="951.4" cy="1588.3" r="4.2"/>
<circle cx="955.9" cy="1633.9" r="4.2"/>
<circle cx="973.4" cy="1666" r="4.2"/>
<circle cx="981" cy="1610.8" r="4.2"/>
<circle cx="982.67" cy="1610.31" r="4.2"/>
<circle cx="984" cy="1606.61" r="4.2"/>
<circle cx="985.44" cy="1604.32" r="4.2"/>
<circle cx="986" cy="1603.3" r="4.2"/>
<circle cx="991" cy="1546.9" r="4.2"/>
<circle cx="991.58" cy="1543.21" r="4.2"/>
<circle cx="993.13" cy="1541.31" r="4.2"/>
<circle cx="993.06" cy="1539.09" r="4.2"/>
<circle cx="993.5" cy="1535.6" r="4.2"/>
<circle cx="999" cy="1518.1" r="4.2"/>
<circle cx="1001" cy="1503" r="4.2"/>
<circle cx="1003.14" cy="1501.07" r="4.2"/>
<circle cx="1005.04" cy="1501" r="4.2"/>
<circle cx="1006" cy="1498" r="4.2"/>
<circle cx="1009" cy="1399" r="4.2"/>
<circle cx="1009.8" cy="1305" r="4.2"/>
<circle cx="1012.48" cy="1304.66" r="4.2"/>
<circle cx="1014.65" cy="1302.25" r="4.2"/>
<circle cx="1016" cy="1302.5" r="4.2"/>
<circle cx="1018.47" cy="1302.19" r="4.2"/>
<circle cx="1022.09" cy="1302.54" r="4.2"/>
<circle cx="1023.6" cy="1304.5" r="4.2"/>
<circle cx="1024.78" cy="1305.04" r="4.2"/>
<circle cx="1027.35" cy="1307.61" r="4.2"/>
<circle cx="1029.51" cy="1309.6" r="4.2"/>
<circle cx="1031.1" cy="1311.3" r="4.2"/>
<circle cx="1029.1" cy="1323.8" r="4.2"/>
<circle cx="1037.3" cy="1305" r="4.2"/>
<circle cx="1038.74" cy="1301.03" r="4.2"/>
<circle cx="1039.36" cy="1300.2" r="4.2"/>
<circle cx="1041.1" cy="1297" r="4.2"/>
<circle cx="1048.6" cy="1502.5" r="4.2"/>
<circle cx="1050.36" cy="1501.11" r="4.2"/>
<circle cx="1051.73" cy="1498.03" r="4.2"/>
<circle cx="1052.68" cy="1496.5" r="4.2"/>
<circle cx="1054.9" cy="1494.3" r="4.2"/>
<circle cx="1056.31" cy="1497.19" r="4.2"/>
<circle cx="1059.86" cy="1495.87" r="4.2"/>
<circle cx="1061.2" cy="1498" r="4.2"/>
<circle cx="1064.84" cy="1501.27" r="4.2"/>
<circle cx="1066.2" cy="1500.5" r="4.2"/>
<circle cx="1069.2" cy="1374" r="4.2"/>
<circle cx="1071.2" cy="1320" r="4.2"/>
<circle cx="1072.01" cy="1317.45" r="4.2"/>
<circle cx="1073.84" cy="1316.72" r="4.2"/>
<circle cx="1073.7" cy="1313.8" r="4.2"/>
<circle cx="1074.69" cy="1312.93" r="4.2"/>
<circle cx="1076.11" cy="1311.49" r="4.2"/>
<circle cx="1077.4" cy="1308.8" r="4.2"/>
<circle cx="1079.2" cy="1297" r="4.2"/>
<circle cx="1083.7" cy="1698.5" r="4.2"/>
<circle cx="1084.99" cy="1701.6" r="4.2"/>
<circle cx="1086.5" cy="1701" r="4.2"/>
<circle cx="1089.2" cy="1330" r="4.2"/>
<circle cx="1092.5" cy="1386" r="4.2"/>
<circle cx="1094.2" cy="1427.1" r="4.2"/>
<circle cx="1111.4" cy="1476.7" r="4.2"/>
<circle cx="1112.88" cy="1478.18" r="4.2"/>
<circle cx="1115.21" cy="1480.03" r="4.2"/>
<circle cx="1116.4" cy="1483" r="4.2"/>
<circle cx="1119.52" cy="1483.58" r="4.2"/>
<circle cx="1120.2" cy="1483.04" r="4.2"/>
<circle cx="1122.7" cy="1484.2" r="4.2"/>
<circle cx="1122.7" cy="1493" r="4.2"/>
<circle cx="1127.7" cy="1470.5" r="4.2"/>
<circle cx="1129.07" cy="1466.33" r="4.2"/>
<circle cx="1130.76" cy="1464.96" r="4.2"/>
<circle cx="1130.27" cy="1464.51" r="4.2"/>
<circle cx="1131.5" cy="1461.7" r="4.2"/>
<circle cx="1132.37" cy="1459.99" r="4.2"/>
<circle cx="1132.93" cy="1456.47" r="4.2"/>
<circle cx="1134.91" cy="1455.15" r="4.2"/>
<circle cx="1136.5" cy="1452.9" r="4.2"/>
<circle cx="1137.98" cy="1453.47" r="4.2"/>
<circle cx="1140.3" cy="1453.21" r="4.2"/>
<circle cx="1144" cy="1450.4" r="4.2"/>
<circle cx="1146.66" cy="1448.97" r="4.2"/>
<circle cx="1147.81" cy="1449.18" r="4.2"/>
<circle cx="1150.3" cy="1449.2" r="4.2"/>
<circle cx="1150.3" cy="1429.9" r="4.2"/>
<circle cx="1150.9" cy="1433.86" r="4.2"/>
<circle cx="1152.88" cy="1431.63" r="4.2"/>
<circle cx="1154" cy="1435.4" r="4.2"/>
<circle cx="1156.5" cy="1447.9" r="4.2"/>
<circle cx="1169" cy="1474.2" r="4.2"/>
<circle cx="1168.78" cy="1477.18" r="4.2"/>
<circle cx="1171.12" cy="1478.26" r="4.2"/>
<circle cx="1172.18" cy="1480.74" r="4.2"/>
<circle cx="1172.8" cy="1485.5" r="4.2"/>
<circle cx="1175.66" cy="1487.19" r="4.2"/>
<circle cx="1178.72" cy="1485.16" r="4.2"/>
<circle cx="1180.3" cy="1484.2" r="4.2"/>
<circle cx="1181.71" cy="1481.83" r="4.2"/>
<circle cx="1183.82" cy="1482.49" r="4.2"/>
<circle cx="1184.96" cy="1481.1" r="4.2"/>
<circle cx="1187.8" cy="1478" r="4.2"/>
<circle cx="1189.6" cy="1478.31" r="4.2"/>
<circle cx="1194.04" cy="1478.14" r="4.2"/>
<circle cx="1195.4" cy="1476.7" r="4.2"/>
<circle cx="1195.82" cy="1477.02" r="4.2"/>
<circle cx="1197.35" cy="1472.89" r="4.2"/>
<circle cx="1198.1" cy="1472.24" r="4.2"/>
<circle cx="1200.4" cy="1469.2" r="4.2"/>
<circle cx="1200.97" cy="1467.55" r="4.2"/>
<circle cx="1201.76" cy="1466.04" r="4.2"/>
<circle cx="1203.43" cy="1462.97" r="4.2"/>
<circle cx="1204.1" cy="1460.4" r="4.2"/>
<circle cx="1205.23" cy="1456.94" r="4.2"/>
<circle cx="1207.13" cy="1455.46" r="4.2"/>
<circle cx="1206.95" cy="1453.82" r="4.2"/>
<circle cx="1209.1" cy="1452.4" r="4.2"/>
<circle cx="1209.53" cy="1455.91" r="4.2"/>
<circle cx="1210.28" cy="1455.62" r="4.2"/>
<circle cx="1211.23" cy="1458.64" r="4.2"/>
<circle cx="1211.25" cy="1461.83" r="4.2"/>
<circle cx="1212.9" cy="1465.5" r="4.2"/>
<circle cx="1213.89" cy="1466.88" r="4.2"/>
<circle cx="1216.44" cy="1469.98" r="4.2"/>
<circle cx="1216.7" cy="1471.7" r="4.2"/>
<circle cx="1219.2" cy="1472.67" r="4.2"/>
<circle cx="1222.01" cy="1473.41" r="4.2"/>
<circle cx="1222.9" cy="1474.2" r="4.2"/>
<circle cx="1225.45" cy="1474.14" r="4.2"/>
<circle cx="1227.35" cy="1475.8" r="4.2"/>
<circle cx="1230.5" cy="1476.7" r="4.2"/>
<circle cx="1233.38" cy="1480.03" r="4.2"/>
<circle cx="1235.63" cy="1480.21" r="4.2"/>
<circle cx="1236.7" cy="1481.7" r="4.2"/>
<circle cx="1239.76" cy="1483.6" r="4.2"/>
<circle cx="1240.58" cy="1485.17" r="4.2"/>
<circle cx="1243" cy="1488" r="4.2"/>
<circle cx="1244.64" cy="1491.64" r="4.2"/>
<circle cx="1245.39" cy="1489.55" r="4.2"/>
<circle cx="1246.7" cy="1493" r="4.2"/>
<circle cx="1241.7" cy="1495" r="4.2"/>
<circle cx="1250.5" cy="1464.2" r="4.2"/>
<circle cx="1249.7" cy="1475.5" r="4.2"/>
<circle cx="1265.5" cy="1442.9" r="4.2"/>
<circle cx="1267.03" cy="1441.16" r="4.2"/>
<circle cx="1270.02" cy="1441.42" r="4.2"/>
<circle cx="1271.8" cy="1441.6" r="4.2"/>
<circle cx="1272.79" cy="1443.27" r="4.2"/>
<circle cx="1276.13" cy="1445.4" r="4.2"/>
<circle cx="1276.8" cy="1445.4" r="4.2"/>
<circle cx="1278.54" cy="1445.97" r="4.2"/>
<circle cx="1278.67" cy="1447.55" r="4.2"/>
<circle cx="1280.6" cy="1451.7" r="4.2"/>
<circle cx="1281.8" cy="1460.4" r="4.2"/>
<circle cx="1284.3" cy="1470.5" r="4.2"/>
<circle cx="1286.8" cy="1481.7" r="4.2"/>
<circle cx="1289.3" cy="1491.8" r="4.2"/>
<circle cx="1289.14" cy="1494.58" r="4.2"/>
<circle cx="1290.08" cy="1495.48" r="4.2"/>
<circle cx="1292.1" cy="1500.37" r="4.2"/>
<circle cx="1293.1" cy="1500.5" r="4.2"/>
<circle cx="1294.34" cy="1500.34" r="4.2"/>
<circle cx="1295.64" cy="1503.15" r="4.2"/>
<circle cx="1298.1" cy="1505.6" r="4.2"/>
<circle cx="1310.7" cy="1392.8" r="4.2"/>
<circle cx="1311.9" cy="1323.8" r="4.2"/>
<circle cx="1315.7" cy="1311.3" r="4.2"/>
<circle cx="1318.71" cy="1310.18" r="4.2"/>
<circle cx="1320.7" cy="1310" r="4.2"/>
<circle cx="1323.2" cy="1297.5" r="4.2"/>
<circle cx="1326.45" cy="1298.46" r="4.2"/>
<circle cx="1327.56" cy="1296.66" r="4.2"/>
<circle cx="1329.4" cy="1296.5" r="4.2"/>
<circle cx="1333.2" cy="1707.3" r="4.2"/>
<circle cx="1335.2" cy="1697.3" r="4.2"/>
<circle cx="1340.2" cy="1671" r="4.2"/>
<circle cx="1346.5" cy="1584.5" r="4.2"/>
<circle cx="1348.2" cy="1543.6" r="4.2"/>
<circle cx="1350" cy="1521.8" r="4.2"/>
<circle cx="1351.77" cy="1519.06" r="4.2"/>
<circle cx="1352.04" cy="1518.87" r="4.2"/>
<circle cx="1353.16" cy="1513.95" r="4.2"/>
<circle cx="1354.5" cy="1513.1" r="4.2"/>
<circle cx="1356.61" cy="1513.69" r="4.2"/>
<circle cx="1360.14" cy="1511" r="4.2"/>
<circle cx="1362" cy="1511.8" r="4.2"/>
<circle cx="1365.16" cy="1512.8" r="4.2"/>
<circle cx="1368.31" cy="1511.19" r="4.2"/>
<circle cx="1370.8" cy="1513.1" r="4.2"/>
<circle cx="1375.3" cy="1607.1" r="4.2"/>
<circle cx="1378.3" cy="1658.4" r="4.2"/>
<circle cx="1380.8" cy="1296.5" r="4.2"/>
<circle cx="1382.93" cy="1297.6" r="4.2"/>
<circle cx="1384.05" cy="1298.84" r="4.2"/>
<circle cx="1385.8" cy="1301.3" r="4.2"/>
<circle cx="1389.2" cy="1302.03" r="4.2"/>
<circle cx="1391.88" cy="1301.02" r="4.2"/>
<circle cx="1394.03" cy="1300.61" r="4.2"/>
<circle cx="1395.9" cy="1302" r="4.2"/>
<circle cx="1393.4" cy="1312.6" r="4.2"/>
<circle cx="1391.31" cy="1314.21" r="4.2"/>
<circle cx="1391.26" cy="1318.05" r="4.2"/>
<circle cx="1389.6" cy="1317.6" r="4.2"/>
<circle cx="1400.4" cy="1674.7" r="4.2"/>
<circle cx="1405.4" cy="1602.8" r="4.2"/>
<circle cx="1410.4" cy="1556.9" r="4.2"/>
<circle cx="1413.4" cy="1545.7" r="4.2"/>
<circle cx="1413.76" cy="1543.03" r="4.2"/>
<circle cx="1416.37" cy="1542.83" r="4.2"/>
<circle cx="1415.32" cy="1537.65" r="4.2"/>
<circle cx="1417.2" cy="1536.9" r="4.2"/>
<circle cx="1419.38" cy="1536.44" r="4.2"/>
<circle cx="1420.38" cy="1534.5" r="4.2"/>
<circle cx="1420.9" cy="1531.9" r="4.2"/>
<circle cx="1422.73" cy="1531.41" r="4.2"/>
<circle cx="1424.58" cy="1531.01" r="4.2"/>
<circle cx="1427.2" cy="1530.6" r="4.2"/>
<circle cx="1434.7" cy="1590.8" r="4.2"/>
<circle cx="1438.5" cy="1575.2" r="4.2"/>
<circle cx="1443.5" cy="1536.9" r="4.2"/>
<circle cx="1445.63" cy="1534.87" r="4.2"/>
<circle cx="1445.13" cy="1535.13" r="4.2"/>
<circle cx="1447.2" cy="1531.9" r="4.2"/>
<circle cx="1444.7" cy="1526.9" r="4.2"/>
<circle cx="1461" cy="1623.3" r="4.2"/>
<circle cx="1467.3" cy="1560.7" r="4.2"/>
<circle cx="1471.1" cy="1550.7" r="4.2"/>
<circle cx="1473.6" cy="1539.4" r="4.2"/>
<circle cx="1476.1" cy="1529.4" r="4.2"/>
<circle cx="1478.23" cy="1528.01" r="4.2"/>
<circle cx="1480.75" cy="1526.5" r="4.2"/>
<circle cx="1483.6" cy="1525.6" r="4.2"/>
<circle cx="1485.89" cy="1523.04" r="4.2"/>
<circle cx="1488.1" cy="1524.39" r="4.2"/>
<circle cx="1488.6" cy="1520.6" r="4.2"/>
<circle cx="1491.1" cy="1510.6" r="4.2"/>
<circle cx="1496.9" cy="1484.2" r="4.2"/>
<circle cx="1498.6" cy="1450.4" r="4.2"/>
<circle cx="1508.6" cy="1447.9" r="4.2"/>
<circle cx="1501.1" cy="1437.9" r="4.2"/>
<circle cx="1503.1" cy="1437.27" r="4.2"/>
<circle cx="1506.1" cy="1434.9" r="4.2"/>
<circle cx="1511.2" cy="1457.9" r="4.2"/>
<circle cx="1511.94" cy="1461.79" r="4.2"/>
<circle cx="1515.09" cy="1463.28" r="4.2"/>
<circle cx="1516.2" cy="1464.2" r="4.2"/>
<circle cx="1517.74" cy="1466.21" r="4.2"/>
<circle cx="1520.38" cy="1466.2" r="4.2"/>
<circle cx="1521.2" cy="1470" r="4.2"/>
<circle cx="1523.18" cy="1471.52" r="4.2"/>
<circle cx="1527.29" cy="1471.75" r="4.2"/>
<circle cx="1528.7" cy="1471" r="4.2"/>
<circle cx="1531.22" cy="1470.81" r="4.2"/>
<circle cx="1533.76" cy="1468.56" r="4.2"/>
<circle cx="1536.2" cy="1466.7" r="4.2"/>
<circle cx="1538.72" cy="1465.44" r="4.2"/>
<circle cx="1540.28" cy="1464.54" r="4.2"/>
<circle cx="1541.2" cy="1460.4" r="4.2"/>
<circle cx="1543.45" cy="1458.94" r="4.2"/>
<circle cx="1545.2" cy="1458.61" r="4.2"/>
<circle cx="1547.5" cy="1457.9" r="4.2"/>
<circle cx="1563.2" cy="1311.3" r="4.2"/>
<circle cx="1561.4" cy="1352.2" r="4.2"/>
<circle cx="1558.4" cy="1406.1" r="4.2"/>
<circle cx="1566.4" cy="1706" r="4.2"/>
<circle cx="1567.7" cy="1691" r="4.2"/>
<circle cx="1572.7" cy="1682.2" r="4.2"/>
<circle cx="1573.18" cy="1682.08" r="4.2"/>
<circle cx="1574.55" cy="1678.72" r="4.2"/>
<circle cx="1575.2" cy="1676" r="4.2"/>
<circle cx="1577.09" cy="1676.28" r="4.2"/>
<circle cx="1580.2" cy="1674.7" r="4.2"/>
<circle cx="1583.2" cy="1661.7" r="4.2"/>
<circle cx="1589" cy="1617.1" r="4.2"/>
<circle cx="1594" cy="1584.5" r="4.2"/>
<circle cx="1595.55" cy="1583.78" r="4.2"/>
<circle cx="1595.34" cy="1581.9" r="4.2"/>
<circle cx="1597.7" cy="1578.2" r="4.2"/>
<circle cx="1600.51" cy="1577.58" r="4.2"/>
<circle cx="1602.8" cy="1575.7" r="4.2"/>
<circle cx="1605.45" cy="1576.53" r="4.2"/>
<circle cx="1606.97" cy="1580.35" r="4.2"/>
<circle cx="1607.8" cy="1579.5" r="4.2"/>
<circle cx="1611.5" cy="1626.4" r="4.2"/>
<circle cx="1614" cy="1633.4" r="4.2"/>
<circle cx="1635.3" cy="1652.2" r="4.2"/>
<circle cx="1637.08" cy="1653.09" r="4.2"/>
<circle cx="1639.1" cy="1652.9" r="4.2"/>
<circle cx="1644.1" cy="1622.8" r="4.2"/>
<circle cx="1646.1" cy="1603.8" r="4.2"/>
<circle cx="1649.1" cy="1587.8" r="4.2"/>
<circle cx="1655.4" cy="1563.2" r="4.2"/>
<circle cx="1655.71" cy="1559.3" r="4.2"/>
<circle cx="1657.08" cy="1558.46" r="4.2"/>
<circle cx="1659.1" cy="1555.7" r="4.2"/>
<circle cx="1660.68" cy="1551.09" r="4.2"/>
<circle cx="1661.05" cy="1549.93" r="4.2"/>
<circle cx="1662.9" cy="1548.2" r="4.2"/>
<circle cx="1665.05" cy="1547.67" r="4.2"/>
<circle cx="1666.6" cy="1543.57" r="4.2"/>
<circle cx="1666.7" cy="1543.1" r="4.2"/>
<circle cx="1666.92" cy="1545.88" r="4.2"/>
<circle cx="1668.76" cy="1548.77" r="4.2"/>
<circle cx="1670.4" cy="1549.4" r="4.2"/>
<circle cx="1671.2" cy="1590.8" r="4.2"/>
<circle cx="1674.7" cy="1615.8" r="4.2"/>
<circle cx="1679.2" cy="1649.7" r="4.2"/>
<circle cx="1681" cy="1660.9" r="4.2"/>
<circle cx="1682.38" cy="1664.2" r="4.2"/>
<circle cx="1682.43" cy="1664.44" r="4.2"/>
<circle cx="1683.7" cy="1668.38" r="4.2"/>
<circle cx="1684.2" cy="1669.7" r="4.2"/>
<circle cx="1685.62" cy="1670.54" r="4.2"/>
<circle cx="1686.05" cy="1672.82" r="4.2"/>
<circle cx="1688" cy="1674.7" r="4.2"/>
<circle cx="1688.9" cy="1671.24" r="4.2"/>
<circle cx="1690.11" cy="1671.19" r="4.2"/>
<circle cx="1689.81" cy="1670.33" r="4.2"/>
<circle cx="1691.7" cy="1666" r="4.2"/>
<circle cx="1692.85" cy="1662.42" r="4.2"/>
<circle cx="1694.41" cy="1663.95" r="4.2"/>
<circle cx="1695.5" cy="1659.7" r="4.2"/>
<circle cx="1697.75" cy="1659.78" r="4.2"/>
<circle cx="1700" cy="1660.2" r="4.2"/>
<circle cx="1706" cy="1577.7" r="4.2"/>
<circle cx="1709.3" cy="1566.2" r="4.2"/>
<circle cx="1713" cy="1554.4" r="4.2"/>
<circle cx="1712.77" cy="1551.96" r="4.2"/>
<circle cx="1715.41" cy="1552.18" r="4.2"/>
<circle cx="1714.68" cy="1546.3" r="4.2"/>
<circle cx="1715.5" cy="1545.7" r="4.2"/>
<circle cx="1733.1" cy="1538.1" r="4.2"/>
<circle cx="1734.3" cy="1569.5" r="4.2"/>
<circle cx="1736.06" cy="1570.8" r="4.2"/>
<circle cx="1735.94" cy="1572.22" r="4.2"/>
<circle cx="1738.1" cy="1575.7" r="4.2"/>
<circle cx="1737.6" cy="1582" r="4.2"/>
<circle cx="1745.6" cy="1425.4" r="4.2"/>
<circle cx="1746.39" cy="1429" r="4.2"/>
<circle cx="1748.67" cy="1431.16" r="4.2"/>
<circle cx="1748.59" cy="1431.22" r="4.2"/>
<circle cx="1749.4" cy="1435.4" r="4.2"/>
<circle cx="1752.4" cy="1303.8" r="4.2"/>
<circle cx="1759.4" cy="1641.6" r="4.2"/>
<circle cx="1757.6" cy="1658.4" r="4.2"/>
<circle cx="1764.4" cy="1556.2" r="4.2"/>
<circle cx="1767.7" cy="1533.1" r="4.2"/>
<circle cx="1769.4" cy="1523.1" r="4.2"/>
<circle cx="1771.55" cy="1522.22" r="4.2"/>
<circle cx="1771.58" cy="1519.52" r="4.2"/>
<circle cx="1773.2" cy="1515.6" r="4.2"/>
<circle cx="1773.92" cy="1515.26" r="4.2"/>
<circle cx="1777.25" cy="1512.15" r="4.2"/>
<circle cx="1778.2" cy="1511.8" r="4.2"/>
<circle cx="1781" cy="1513.74" r="4.2"/>
<circle cx="1783.03" cy="1512.24" r="4.2"/>
<circle cx="1785.7" cy="1513.1" r="4.2"/>
<circle cx="1788.71" cy="1511.73" r="4.2"/>
<circle cx="1789.5" cy="1511.8" r="4.2"/>
<circle cx="1792.7" cy="1501.8" r="4.2"/>
<circle cx="1802" cy="1470.5" r="4.2"/>
<circle cx="1803.34" cy="1468.22" r="4.2"/>
<circle cx="1803.45" cy="1464.12" r="4.2"/>
<circle cx="1805.8" cy="1462.9" r="4.2"/>
<circle cx="1806.02" cy="1459.51" r="4.2"/>
<circle cx="1807.99" cy="1457.22" r="4.2"/>
<circle cx="1809.5" cy="1455.4" r="4.2"/>
<circle cx="1810.87" cy="1451.16" r="4.2"/>
<circle cx="1811.61" cy="1450.39" r="4.2"/>
<circle cx="1812" cy="1447.9" r="4.2"/>
<circle cx="1813.35" cy="1447.07" r="4.2"/>
<circle cx="1813.4" cy="1445.89" r="4.2"/>
<circle cx="1815.8" cy="1442.9" r="4.2"/>
<circle cx="1819.5" cy="1455.4" r="4.2"/>
<circle cx="1823.3" cy="1498" r="4.2"/>
<circle cx="1825.8" cy="1498.03" r="4.2"/>
<circle cx="1826.38" cy="1501.43" r="4.2"/>
<circle cx="1828.3" cy="1504.3" r="4.2"/>
<circle cx="1829.57" cy="1507.92" r="4.2"/>
<circle cx="1832.08" cy="1510.54" r="4.2"/>
<circle cx="1834.6" cy="1510.6" r="4.2"/>
<circle cx="1836.56" cy="1513.25" r="4.2"/>
<circle cx="1838.2" cy="1515.09" r="4.2"/>
<circle cx="1840.9" cy="1516.8" r="4.2"/>
<circle cx="1844.04" cy="1517.54" r="4.2"/>
<circle cx="1844.87" cy="1520.3" r="4.2"/>
<circle cx="1847.1" cy="1519.3" r="4.2"/>
<circle cx="1848.89" cy="1521.8" r="4.2"/>
<circle cx="1851.79" cy="1520.94" r="4.2"/>
<circle cx="1853.4" cy="1521.8" r="4.2"/>
<circle cx="1857.6" cy="1637.1" r="4.2"/>
<circle cx="1859.6" cy="1303.8" r="4.2"/>
<circle cx="1860.84" cy="1303.41" r="4.2"/>
<circle cx="1862.02" cy="1306.38" r="4.2"/>
<circle cx="1863.4" cy="1308.8" r="4.2"/>
<circle cx="1865.9" cy="1298.8" r="4.2"/>
<circle cx="1879.7" cy="1676" r="4.2"/>
<circle cx="1882.2" cy="1647.7" r="4.2"/>
<circle cx="1886" cy="1617.1" r="4.2"/>
<circle cx="1891" cy="1481.7" r="4.2"/>
<circle cx="1891.97" cy="1485.47" r="4.2"/>
<circle cx="1893.07" cy="1487.78" r="4.2"/>
<circle cx="1894.7" cy="1489.3" r="4.2"/>
<circle cx="1895.76" cy="1491.17" r="4.2"/>
<circle cx="1896.19" cy="1493.73" r="4.2"/>
<circle cx="1898.5" cy="1494.3" r="4.2"/>
<circle cx="1899.82" cy="1494.44" r="4.2"/>
<circle cx="1903.5" cy="1494.3" r="4.2"/>
<circle cx="1905.35" cy="1493.55" r="4.2"/>
<circle cx="1907.37" cy="1491.15" r="4.2"/>
<circle cx="1908.5" cy="1489.3" r="4.2"/>
<circle cx="1911.13" cy="1487.43" r="4.2"/>
<circle cx="1910.83" cy="1486.87" r="4.2"/>
<circle cx="1913.5" cy="1483" r="4.2"/>
<circle cx="1914.81" cy="1482.49" r="4.2"/>
<circle cx="1915.04" cy="1478.63" r="4.2"/>
<circle cx="1916" cy="1475.5" r="4.2"/>
<circle cx="1917.8" cy="1464.7" r="4.2"/>
<circle cx="1921.1" cy="1452.9" r="4.2"/>
<circle cx="1921.44" cy="1451.29" r="4.2"/>
<circle cx="1923.6" cy="1447.9" r="4.2"/>
<circle cx="1923.87" cy="1443.78" r="4.2"/>
<circle cx="1926.1" cy="1443.4" r="4.2"/>
<circle cx="1929.8" cy="1652.9" r="4.2"/>
<circle cx="1927.3" cy="1296.5" r="4.2"/>
<circle cx="1929.03" cy="1295.9" r="4.2"/>
<circle cx="1931.35" cy="1297.33" r="4.2"/>
<circle cx="1934.23" cy="1297.68" r="4.2"/>
<circle cx="1936.1" cy="1299.5" r="4.2"/>
<circle cx="1932.3" cy="1310" r="4.2"/>
<circle cx="1947.4" cy="1674.7" r="4.2"/>
<circle cx="1950.6" cy="1658.4" r="4.2"/>
<circle cx="1952.4" cy="1647.2" r="4.2"/>
<circle cx="1955.4" cy="1399" r="4.2"/>
<circle cx="1957.4" cy="1435.4" r="4.2"/>
<circle cx="1961.2" cy="1449.2" r="4.2"/>
<circle cx="1965.4" cy="1465.5" r="4.2"/>
<circle cx="1968.7" cy="1476.7" r="4.2"/>
<circle cx="1969.86" cy="1477.8" r="4.2"/>
<circle cx="1972.4" cy="1480.5" r="4.2"/>
<circle cx="1973.33" cy="1479.03" r="4.2"/>
<circle cx="1975.64" cy="1477.07" r="4.2"/>
<circle cx="1977.4" cy="1475.5" r="4.2"/>
<circle cx="1979.9" cy="1459.2" r="4.2"/>
<circle cx="1983.2" cy="1444.1" r="4.2"/>
<circle cx="1985.5" cy="1435.4" r="4.2"/>
<circle cx="1987.5" cy="1416.6" r="4.2"/>
<circle cx="1988.31" cy="1414.3" r="4.2"/>
<circle cx="1990.22" cy="1410.63" r="4.2"/>
<circle cx="1991.2" cy="1410.3" r="4.2"/>
<circle cx="1993.25" cy="1409.91" r="4.2"/>
<circle cx="1995" cy="1409.8" r="4.2"/>
<circle cx="1998.2" cy="1421.6" r="4.2"/>
<circle cx="2000.5" cy="1431.6" r="4.2"/>
<circle cx="1993.2" cy="1399" r="4.2"/>
<circle cx="2002.5" cy="1447.9" r="4.2"/>
<circle cx="2003.93" cy="1448.1" r="4.2"/>
<circle cx="2006.95" cy="1447.72" r="4.2"/>
<circle cx="2008.8" cy="1448.4" r="4.2"/>
<circle cx="2005.5" cy="1462.4" r="4.2"/>
<circle cx="2010" cy="1437.9" r="4.2"/>
<circle cx="2011.05" cy="1436.34" r="4.2"/>
<circle cx="2011.67" cy="1434.8" r="4.2"/>
<circle cx="2013.8" cy="1430.4" r="4.2"/>
<circle cx="2018.3" cy="1456.2" r="4.2"/>
</g>
<polyline points="155.5,1439.1 196.5,1439.1 256.75,1578.2 317,1524.3 377.25,1461.7 437.5,1473 497.75,1577.7 558,1577.7 618.25,1590.5 678.5,1604.5 738.75,1472.5 799,1485.5 859.25,1536.9 919.5,1519.3 979.75,1548.2 1040,1612.1 1100.25,1470.5 1160.5,1318.8 1220.75,1307.6 1281,1399 1341.25,1610.8 1401.5,1584.5 1461.75,1540.6 1522,1315.5 1582.25,1556.9 1642.5,1489.3 1702.75,1546.9 1763,1491.8 1823.25,1479.2 1883.5,1515.6 1943.75,1540.6 1988.7,1508.1 1993.7,1499.3 2020.5,1499.3" fill="none" stroke="#F6FAFC" stroke-width="12.5" stroke-linejoin="round"/>
<polyline points="155.5,1647.9 196.5,1647.9 256.75,1647.2 317,1635.9 377.25,1617.1 437.5,1667.2 497.75,1651.4 558,1683.5 618.25,1702.3 678.5,1632.9 738.75,1623.3 799,1642.1 859.25,1609.6 919.5,1617.8 979.75,1698.5 1040,1709 1100.25,1650.3 1160.5,1543.1 1220.75,1487.5 1281,1678.5 1341.25,1688.5 1401.5,1701 1461.75,1645.9 1522,1615.2 1582.25,1645.9 1642.5,1638.4 1702.75,1632.9 1763,1694.8 1823.25,1657.2 1883.5,1703 1943.75,1703 1988.7,1653.4 1993.7,1635.9 2020.5,1635.9" fill="none" stroke="#F6FAFC" stroke-width="12.5" stroke-linejoin="round"/>
<polyline points="155.5,1573.2 196.5,1573.2 256.75,1624.6 317,1592 377.25,1531.9 437.5,1584.5 497.75,1610.8 558,1617.1 618.25,1640 678.5,1613.3 738.75,1565.2 799,1554.4 859.25,1574.5 919.5,1577 979.75,1644.6 1040,1645.9 1100.25,1557 1160.5,1465.5 1220.75,1367.7 1281,1515.6 1341.25,1642.1 1401.5,1639.6 1461.75,1595.8 1522,1483 1582.25,1602 1642.5,1573.2 1702.75,1592 1763,1595.8 1823.25,1569.5 1883.5,1588.3 1943.75,1620.8 1991.2,1570.7 1996,1563.7 2020.5,1563.7" fill="none" stroke="#F6FAFC" stroke-width="15" stroke-linejoin="round"/>
<polyline points="155.5,1439.1 196.5,1439.1 256.75,1578.2 317,1524.3 377.25,1461.7 437.5,1473 497.75,1577.7 558,1577.7 618.25,1590.5 678.5,1604.5 738.75,1472.5 799,1485.5 859.25,1536.9 919.5,1519.3 979.75,1548.2 1040,1612.1 1100.25,1470.5 1160.5,1318.8 1220.75,1307.6 1281,1399 1341.25,1610.8 1401.5,1584.5 1461.75,1540.6 1522,1315.5 1582.25,1556.9 1642.5,1489.3 1702.75,1546.9 1763,1491.8 1823.25,1479.2 1883.5,1515.6 1943.75,1540.6 1988.7,1508.1 1993.7,1499.3 2020.5,1499.3" fill="none" stroke="#3D7070" stroke-width="8" stroke-linejoin="round"/>
<polyline points="155.5,1647.9 196.5,1647.9 256.75,1647.2 317,1635.9 377.25,1617.1 437.5,1667.2 497.75,1651.4 558,1683.5 618.25,1702.3 678.5,1632.9 738.75,1623.3 799,1642.1 859.25,1609.6 919.5,1617.8 979.75,1698.5 1040,1709 1100.25,1650.3 1160.5,1543.1 1220.75,1487.5 1281,1678.5 1341.25,1688.5 1401.5,1701 1461.75,1645.9 1522,1615.2 1582.25,1645.9 1642.5,1638.4 1702.75,1632.9 1763,1694.8 1823.25,1657.2 1883.5,1703 1943.75,1703 1988.7,1653.4 1993.7,1635.9 2020.5,1635.9" fill="none" stroke="#3D7070" stroke-width="8" stroke-linejoin="round"/>
<polyline points="155.5,1573.2 196.5,1573.2 256.75,1624.6 317,1592 377.25,1531.9 437.5,1584.5 497.75,1610.8 558,1617.1 618.25,1640 678.5,1613.3 738.75,1565.2 799,1554.4 859.25,1574.5 919.5,1577 979.75,1644.6 1040,1645.9 1100.25,1557 1160.5,1465.5 1220.75,1367.7 1281,1515.6 1341.25,1642.1 1401.5,1639.6 1461.75,1595.8 1522,1483 1582.25,1602 1642.5,1573.2 1702.75,1592 1763,1595.8 1823.25,1569.5 1883.5,1588.3 1943.75,1620.8 1991.2,1570.7 1996,1563.7 2020.5,1563.7" fill="none" stroke="#3D7070" stroke-width="7.4" stroke-dasharray="7.4 6.7" stroke-dashoffset="-4"/>
<line x1="154.5" y1="1295.8" x2="2021.8" y2="1295.8" stroke="#000" stroke-width="2"/>
<line x1="203.15" y1="1296" x2="203.15" y2="1300.5" stroke="#000" stroke-width="2.6"/>
<line x1="263.4" y1="1296" x2="263.4" y2="1304.5" stroke="#000" stroke-width="2.6"/>
<line x1="323.65" y1="1296" x2="323.65" y2="1300.5" stroke="#000" stroke-width="2.6"/>
<line x1="383.9" y1="1296" x2="383.9" y2="1304.5" stroke="#000" stroke-width="2.6"/>
<line x1="444.15" y1="1296" x2="444.15" y2="1300.5" stroke="#000" stroke-width="2.6"/>
<line x1="504.4" y1="1296" x2="504.4" y2="1304.5" stroke="#000" stroke-width="2.6"/>
<line x1="564.65" y1="1296" x2="564.65" y2="1300.5" stroke="#000" stroke-width="2.6"/>
<line x1="624.9" y1="1296" x2="624.9" y2="1304.5" stroke="#000" stroke-width="2.6"/>
<line x1="685.15" y1="1296" x2="685.15" y2="1300.5" stroke="#000" stroke-width="2.6"/>
<line x1="745.4" y1="1296" x2="745.4" y2="1304.5" stroke="#000" stroke-width="2.6"/>
<line x1="805.65" y1="1296" x2="805.65" y2="1300.5" stroke="#000" stroke-width="2.6"/>
<line x1="865.9" y1="1296" x2="865.9" y2="1304.5" stroke="#000" stroke-width="2.6"/>
<line x1="926.15" y1="1296" x2="926.15" y2="1300.5" stroke="#000" stroke-width="2.6"/>
<line x1="986.4" y1="1296" x2="986.4" y2="1304.5" stroke="#000" stroke-width="2.6"/>
<line x1="1046.65" y1="1296" x2="1046.65" y2="1300.5" stroke="#000" stroke-width="2.6"/>
<line x1="1106.9" y1="1296" x2="1106.9" y2="1304.5" stroke="#000" stroke-width="2.6"/>
<line x1="1167.15" y1="1296" x2="1167.15" y2="1300.5" stroke="#000" stroke-width="2.6"/>
<line x1="1227.4" y1="1296" x2="1227.4" y2="1304.5" stroke="#000" stroke-width="2.6"/>
<line x1="1287.65" y1="1296" x2="1287.65" y2="1300.5" stroke="#000" stroke-width="2.6"/>
<line x1="1347.9" y1="1296" x2="1347.9" y2="1304.5" stroke="#000" stroke-width="2.6"/>
<line x1="1408.15" y1="1296" x2="1408.15" y2="1300.5" stroke="#000" stroke-width="2.6"/>
<line x1="1468.4" y1="1296" x2="1468.4" y2="1304.5" stroke="#000" stroke-width="2.6"/>
<line x1="1528.65" y1="1296" x2="1528.65" y2="1300.5" stroke="#000" stroke-width="2.6"/>
<line x1="1588.9" y1="1296" x2="1588.9" y2="1304.5" stroke="#000" stroke-width="2.6"/>
<line x1="1649.15" y1="1296" x2="1649.15" y2="1300.5" stroke="#000" stroke-width="2.6"/>
<line x1="1709.4" y1="1296" x2="1709.4" y2="1304.5" stroke="#000" stroke-width="2.6"/>
<line x1="1769.65" y1="1296" x2="1769.65" y2="1300.5" stroke="#000" stroke-width="2.6"/>
<line x1="1829.9" y1="1296" x2="1829.9" y2="1304.5" stroke="#000" stroke-width="2.6"/>
<line x1="1890.15" y1="1296" x2="1890.15" y2="1300.5" stroke="#000" stroke-width="2.6"/>
<line x1="1950.4" y1="1296" x2="1950.4" y2="1304.5" stroke="#000" stroke-width="2.6"/>
<line x1="2010.65" y1="1296" x2="2010.65" y2="1300.5" stroke="#000" stroke-width="2.6"/>
<line x1="155.5" y1="1295" x2="155.5" y2="1710.5" stroke="#3D7070" stroke-width="3"/>
<line x1="155.5" y1="1709.5" x2="176" y2="1709.5" stroke="#3D7070" stroke-width="2.3"/>
<line x1="155.5" y1="1700.31" x2="176.5" y2="1700.31" stroke="#3D7070" stroke-width="2.3"/>
<line x1="175" y1="1700.31" x2="184" y2="1700.31" stroke="#000" stroke-width="2.2"/>
<line x1="155.5" y1="1691.12" x2="176.5" y2="1691.12" stroke="#3D7070" stroke-width="2.3"/>
<line x1="175" y1="1691.12" x2="184" y2="1691.12" stroke="#000" stroke-width="2.2"/>
<line x1="155.5" y1="1681.93" x2="176.5" y2="1681.93" stroke="#3D7070" stroke-width="2.3"/>
<line x1="175" y1="1681.93" x2="184" y2="1681.93" stroke="#000" stroke-width="2.2"/>
<line x1="155.5" y1="1672.74" x2="176.5" y2="1672.74" stroke="#3D7070" stroke-width="2.3"/>
<line x1="175" y1="1672.74" x2="184" y2="1672.74" stroke="#000" stroke-width="2.2"/>
<line x1="155.5" y1="1663.56" x2="176.5" y2="1663.56" stroke="#3D7070" stroke-width="2.3"/>
<line x1="175" y1="1663.56" x2="184" y2="1663.56" stroke="#000" stroke-width="2.2"/>
<line x1="155.5" y1="1654.37" x2="176.5" y2="1654.37" stroke="#3D7070" stroke-width="2.3"/>
<line x1="175" y1="1654.37" x2="184" y2="1654.37" stroke="#000" stroke-width="2.2"/>
<line x1="155.5" y1="1645.18" x2="176.5" y2="1645.18" stroke="#3D7070" stroke-width="2.3"/>
<line x1="175" y1="1645.18" x2="184" y2="1645.18" stroke="#000" stroke-width="2.2"/>
<line x1="155.5" y1="1635.99" x2="176.5" y2="1635.99" stroke="#3D7070" stroke-width="2.3"/>
<line x1="175" y1="1635.99" x2="184" y2="1635.99" stroke="#000" stroke-width="2.2"/>
<line x1="155.5" y1="1626.8" x2="176.5" y2="1626.8" stroke="#3D7070" stroke-width="2.3"/>
<line x1="175" y1="1626.8" x2="184" y2="1626.8" stroke="#000" stroke-width="2.2"/>
<line x1="155.5" y1="1617.61" x2="194" y2="1617.61" stroke="#3D7070" stroke-width="2.3"/>
<line x1="155.5" y1="1608.42" x2="176.5" y2="1608.42" stroke="#3D7070" stroke-width="2.3"/>
<line x1="175" y1="1608.42" x2="184" y2="1608.42" stroke="#000" stroke-width="2.2"/>
<line x1="155.5" y1="1599.23" x2="176.5" y2="1599.23" stroke="#3D7070" stroke-width="2.3"/>
<line x1="175" y1="1599.23" x2="184" y2="1599.23" stroke="#000" stroke-width="2.2"/>
<line x1="155.5" y1="1590.04" x2="176.5" y2="1590.04" stroke="#3D7070" stroke-width="2.3"/>
<line x1="175" y1="1590.04" x2="184" y2="1590.04" stroke="#000" stroke-width="2.2"/>
<line x1="155.5" y1="1580.86" x2="176.5" y2="1580.86" stroke="#3D7070" stroke-width="2.3"/>
<line x1="175" y1="1580.86" x2="184" y2="1580.86" stroke="#000" stroke-width="2.2"/>
<line x1="155.5" y1="1571.67" x2="176.5" y2="1571.67" stroke="#3D7070" stroke-width="2.3"/>
<line x1="175" y1="1571.67" x2="184" y2="1571.67" stroke="#000" stroke-width="2.2"/>
<line x1="155.5" y1="1562.48" x2="176.5" y2="1562.48" stroke="#3D7070" stroke-width="2.3"/>
<line x1="175" y1="1562.48" x2="184" y2="1562.48" stroke="#000" stroke-width="2.2"/>
<line x1="155.5" y1="1553.29" x2="176.5" y2="1553.29" stroke="#3D7070" stroke-width="2.3"/>
<line x1="175" y1="1553.29" x2="184" y2="1553.29" stroke="#000" stroke-width="2.2"/>
<line x1="155.5" y1="1544.1" x2="176.5" y2="1544.1" stroke="#3D7070" stroke-width="2.3"/>
<line x1="175" y1="1544.1" x2="184" y2="1544.1" stroke="#000" stroke-width="2.2"/>
<line x1="155.5" y1="1534.91" x2="176.5" y2="1534.91" stroke="#3D7070" stroke-width="2.3"/>
<line x1="175" y1="1534.91" x2="184" y2="1534.91" stroke="#000" stroke-width="2.2"/>
<line x1="155.5" y1="1525.72" x2="194" y2="1525.72" stroke="#3D7070" stroke-width="2.3"/>
<line x1="155.5" y1="1516.53" x2="176.5" y2="1516.53" stroke="#3D7070" stroke-width="2.3"/>
<line x1="175" y1="1516.53" x2="184" y2="1516.53" stroke="#000" stroke-width="2.2"/>
<line x1="155.5" y1="1507.34" x2="176.5" y2="1507.34" stroke="#3D7070" stroke-width="2.3"/>
<line x1="175" y1="1507.34" x2="184" y2="1507.34" stroke="#000" stroke-width="2.2"/>
<line x1="155.5" y1="1498.16" x2="176.5" y2="1498.16" stroke="#3D7070" stroke-width="2.3"/>
<line x1="175" y1="1498.16" x2="184" y2="1498.16" stroke="#000" stroke-width="2.2"/>
<line x1="155.5" y1="1488.97" x2="176.5" y2="1488.97" stroke="#3D7070" stroke-width="2.3"/>
<line x1="175" y1="1488.97" x2="184" y2="1488.97" stroke="#000" stroke-width="2.2"/>
<line x1="155.5" y1="1479.78" x2="176.5" y2="1479.78" stroke="#3D7070" stroke-width="2.3"/>
<line x1="175" y1="1479.78" x2="184" y2="1479.78" stroke="#000" stroke-width="2.2"/>
<line x1="155.5" y1="1470.59" x2="176.5" y2="1470.59" stroke="#3D7070" stroke-width="2.3"/>
<line x1="175" y1="1470.59" x2="184" y2="1470.59" stroke="#000" stroke-width="2.2"/>
<line x1="155.5" y1="1461.4" x2="176.5" y2="1461.4" stroke="#3D7070" stroke-width="2.3"/>
<line x1="175" y1="1461.4" x2="184" y2="1461.4" stroke="#000" stroke-width="2.2"/>
<line x1="155.5" y1="1452.21" x2="176.5" y2="1452.21" stroke="#3D7070" stroke-width="2.3"/>
<line x1="175" y1="1452.21" x2="184" y2="1452.21" stroke="#000" stroke-width="2.2"/>
<line x1="155.5" y1="1443.02" x2="176.5" y2="1443.02" stroke="#3D7070" stroke-width="2.3"/>
<line x1="175" y1="1443.02" x2="184" y2="1443.02" stroke="#000" stroke-width="2.2"/>
<line x1="155.5" y1="1433.83" x2="194" y2="1433.83" stroke="#3D7070" stroke-width="2.3"/>
<line x1="155.5" y1="1424.64" x2="176.5" y2="1424.64" stroke="#3D7070" stroke-width="2.3"/>
<line x1="175" y1="1424.64" x2="184" y2="1424.64" stroke="#000" stroke-width="2.2"/>
<line x1="155.5" y1="1415.46" x2="176.5" y2="1415.46" stroke="#3D7070" stroke-width="2.3"/>
<line x1="175" y1="1415.46" x2="184" y2="1415.46" stroke="#000" stroke-width="2.2"/>
<line x1="155.5" y1="1406.27" x2="176.5" y2="1406.27" stroke="#3D7070" stroke-width="2.3"/>
<line x1="175" y1="1406.27" x2="184" y2="1406.27" stroke="#000" stroke-width="2.2"/>
<line x1="155.5" y1="1397.08" x2="176.5" y2="1397.08" stroke="#3D7070" stroke-width="2.3"/>
<line x1="175" y1="1397.08" x2="184" y2="1397.08" stroke="#000" stroke-width="2.2"/>
<line x1="155.5" y1="1387.89" x2="176.5" y2="1387.89" stroke="#3D7070" stroke-width="2.3"/>
<line x1="175" y1="1387.89" x2="184" y2="1387.89" stroke="#000" stroke-width="2.2"/>
<line x1="155.5" y1="1378.7" x2="176.5" y2="1378.7" stroke="#3D7070" stroke-width="2.3"/>
<line x1="175" y1="1378.7" x2="184" y2="1378.7" stroke="#000" stroke-width="2.2"/>
<line x1="155.5" y1="1369.51" x2="176.5" y2="1369.51" stroke="#3D7070" stroke-width="2.3"/>
<line x1="175" y1="1369.51" x2="184" y2="1369.51" stroke="#000" stroke-width="2.2"/>
<line x1="155.5" y1="1360.32" x2="176.5" y2="1360.32" stroke="#3D7070" stroke-width="2.3"/>
<line x1="175" y1="1360.32" x2="184" y2="1360.32" stroke="#000" stroke-width="2.2"/>
<line x1="155.5" y1="1351.13" x2="176.5" y2="1351.13" stroke="#3D7070" stroke-width="2.3"/>
<line x1="175" y1="1351.13" x2="184" y2="1351.13" stroke="#000" stroke-width="2.2"/>
<line x1="155.5" y1="1341.94" x2="194" y2="1341.94" stroke="#3D7070" stroke-width="2.3"/>
<line x1="155.5" y1="1332.76" x2="176.5" y2="1332.76" stroke="#3D7070" stroke-width="2.3"/>
<line x1="175" y1="1332.76" x2="184" y2="1332.76" stroke="#000" stroke-width="2.2"/>
<line x1="155.5" y1="1323.57" x2="176.5" y2="1323.57" stroke="#3D7070" stroke-width="2.3"/>
<line x1="175" y1="1323.57" x2="184" y2="1323.57" stroke="#000" stroke-width="2.2"/>
<line x1="155.5" y1="1314.38" x2="176.5" y2="1314.38" stroke="#3D7070" stroke-width="2.3"/>
<line x1="175" y1="1314.38" x2="184" y2="1314.38" stroke="#000" stroke-width="2.2"/>
<line x1="155.5" y1="1305.19" x2="176.5" y2="1305.19" stroke="#3D7070" stroke-width="2.3"/>
<line x1="175" y1="1305.19" x2="184" y2="1305.19" stroke="#000" stroke-width="2.2"/>
<line x1="155.5" y1="1296" x2="176.5" y2="1296" stroke="#3D7070" stroke-width="2.3"/>
<line x1="175" y1="1296" x2="184" y2="1296" stroke="#000" stroke-width="2.2"/>
<line x1="1983.5" y1="1399.38" x2="2020.5" y2="1399.38" stroke="#7050A0" stroke-width="1.8"/>
<line x1="1983.5" y1="1709.5" x2="2020.5" y2="1709.5" stroke="#7050A0" stroke-width="1.6"/>
<text transform="translate(104.68 1354.77) scale(1.1380 1)" font-size="30.36" fill="#3D7070" stroke="#3D7070" stroke-width="0.67" stroke-linejoin="round">40</text>
<text transform="translate(104.09 1447.57) scale(1.1562 1)" font-size="30.36" fill="#3D7070" stroke="#3D7070" stroke-width="0.67" stroke-linejoin="round">30</text>
<text transform="translate(103.79 1539.27) scale(1.1656 1)" font-size="30.36" fill="#3D7070" stroke="#3D7070" stroke-width="0.67" stroke-linejoin="round">20</text>
<text transform="translate(102.85 1631.27) scale(1.1944 1)" font-size="30.36" fill="#3D7070" stroke="#3D7070" stroke-width="0.67" stroke-linejoin="round">10</text>
<text transform="translate(124.58 1708.47) scale(1.0850 1)" font-size="30.36" fill="#3D7070" stroke="#3D7070" stroke-width="0.67" stroke-linejoin="round">0</text>
<text transform="translate(2032.46 1320.27) scale(1.1799 1)" font-size="30.36" fill="#7050A0" stroke="#7050A0" stroke-width="0.67" stroke-linejoin="round">360</text>
<text transform="translate(2032.15 1413.37) scale(1.1861 1)" font-size="30.36" fill="#7050A0" stroke="#7050A0" stroke-width="0.67" stroke-linejoin="round">270</text>
<text transform="translate(2031.22 1516.77) scale(1.2049 1)" font-size="30.36" fill="#7050A0" stroke="#7050A0" stroke-width="0.67" stroke-linejoin="round">180</text>
<text transform="translate(2032.16 1620.47) scale(1.1849 1)" font-size="30.36" fill="#7050A0" stroke="#7050A0" stroke-width="0.67" stroke-linejoin="round">90</text>
<text transform="translate(2032.54 1709.57) scale(1.1126 1)" font-size="30.36" fill="#7050A0" stroke="#7050A0" stroke-width="0.67" stroke-linejoin="round">0</text>
<text transform="translate(245.28 1279.27) scale(1.0840 1)" font-size="30.36" fill="#000" stroke="#000" stroke-width="0.67" stroke-linejoin="round">02</text>
<text transform="translate(365.81 1279.27) scale(1.0582 1)" font-size="30.36" fill="#000" stroke="#000" stroke-width="0.67" stroke-linejoin="round">04</text>
<text transform="translate(486.29 1279.27) scale(1.0752 1)" font-size="30.36" fill="#000" stroke="#000" stroke-width="0.67" stroke-linejoin="round">06</text>
<text transform="translate(606.79 1279.27) scale(1.0752 1)" font-size="30.36" fill="#000" stroke="#000" stroke-width="0.67" stroke-linejoin="round">08</text>
<text transform="translate(726.15 1279.27) scale(1.1019 1)" font-size="30.36" fill="#000" stroke="#000" stroke-width="0.67" stroke-linejoin="round">10</text>
<text transform="translate(846.61 1279.27) scale(1.1204 1)" font-size="30.36" fill="#000" stroke="#000" stroke-width="0.67" stroke-linejoin="round">12</text>
<text transform="translate(967.18 1279.27) scale(1.0929 1)" font-size="30.36" fill="#000" stroke="#000" stroke-width="0.67" stroke-linejoin="round">14</text>
<text transform="translate(1087.63 1279.27) scale(1.1111 1)" font-size="30.36" fill="#000" stroke="#000" stroke-width="0.67" stroke-linejoin="round">16</text>
<text transform="translate(1208.13 1279.27) scale(1.1111 1)" font-size="30.36" fill="#000" stroke="#000" stroke-width="0.67" stroke-linejoin="round">18</text>
<text transform="translate(1329.52 1279.27) scale(1.0752 1)" font-size="30.36" fill="#000" stroke="#000" stroke-width="0.67" stroke-linejoin="round">20</text>
<text transform="translate(1449.99 1279.27) scale(1.0929 1)" font-size="30.36" fill="#000" stroke="#000" stroke-width="0.67" stroke-linejoin="round">22</text>
<text transform="translate(1570.53 1279.27) scale(1.0666 1)" font-size="30.36" fill="#000" stroke="#000" stroke-width="0.67" stroke-linejoin="round">24</text>
<text transform="translate(1691.01 1279.27) scale(1.0840 1)" font-size="30.36" fill="#000" stroke="#000" stroke-width="0.67" stroke-linejoin="round">26</text>
<text transform="translate(1811.51 1279.27) scale(1.0840 1)" font-size="30.36" fill="#000" stroke="#000" stroke-width="0.67" stroke-linejoin="round">28</text>
<text transform="translate(1932.3 1279.27) scale(1.0666 1)" font-size="30.36" fill="#000" stroke="#000" stroke-width="0.67" stroke-linejoin="round">30</text>
<text transform="translate(69.03 1688.21) rotate(-90) scale(1.0741 1)" font-size="33.46" fill="#3D7070" stroke="#3D7070" stroke-width="0.74" stroke-linejoin="round">Скорость ветра (km/h)</text>
<text transform="translate(2132.63 1676.53) rotate(-90) scale(1.0552 1)" font-size="33.46" fill="#7050A0" stroke="#7050A0" stroke-width="0.74" stroke-linejoin="round">Направление ветра</text>
<circle cx="2108.6" cy="1334.4" r="5" fill="none" stroke="#7050A0" stroke-width="2.2"/>
<polygon points="2184.4,1246 2184.4,1276.2 2177.7,1273.7 2187,1297.7 2196.3,1273.7 2189.6,1276.2 2189.6,1246" fill="#7050A0"/>
<polygon points="2155,1402.1 2198,1402.1 2195.5,1408.8 2219.5,1399.5 2195.5,1390.2 2198,1396.9 2155,1396.9" fill="#7050A0"/>
<polygon points="2189.6,1553.8 2189.6,1524.7 2196.3,1527.2 2187,1503.2 2177.7,1527.2 2184.4,1524.7 2184.4,1553.8" fill="#7050A0"/>
<polygon points="2220,1604 2175.5,1604 2178,1597.3 2154,1606.6 2178,1615.9 2175.5,1609.2 2220,1609.2" fill="#7050A0"/>
<polygon points="2184.4,1659 2184.4,1689.1 2177.7,1686.6 2187,1710.6 2196.3,1686.6 2189.6,1689.1 2189.6,1659" fill="#7050A0"/>
</svg></body></html>
